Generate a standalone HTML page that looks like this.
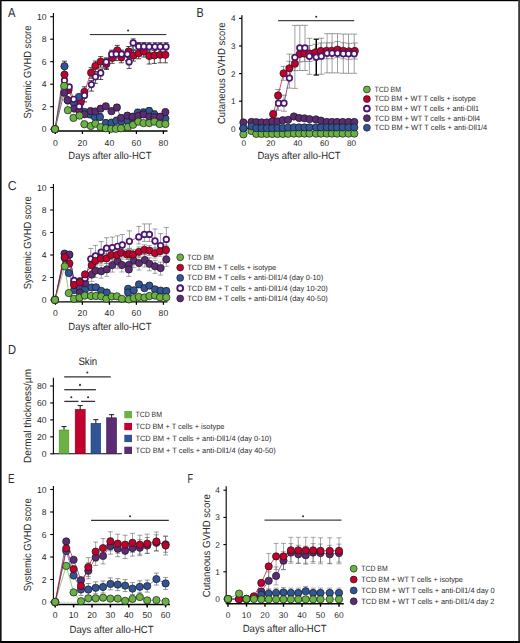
<!DOCTYPE html>
<html><head><meta charset="utf-8"><title>Figure</title>
<style>
html,body{margin:0;padding:0;background:#fff;}
svg{display:block;}
text{font-family:"Liberation Sans",sans-serif;fill:#2b2b2b;text-rendering:geometricPrecision;}
</style></head>
<body>
<svg width="520" height="643" viewBox="0 0 520 643">
<rect x="0" y="0" width="520" height="643" fill="#fff"/>
<text x="8.10" y="17.00" font-size="13.0" textLength="7.44" lengthAdjust="spacingAndGlyphs">A</text>
<text x="196.60" y="17.20" font-size="13.0" textLength="7.20" lengthAdjust="spacingAndGlyphs">B</text>
<text x="7.80" y="190.10" font-size="13.0" textLength="8.86" lengthAdjust="spacingAndGlyphs">C</text>
<text x="7.90" y="354.00" font-size="13.0" textLength="8.06" lengthAdjust="spacingAndGlyphs">D</text>
<text x="8.00" y="483.00" font-size="13.0" textLength="6.53" lengthAdjust="spacingAndGlyphs">E</text>
<text x="187.60" y="482.50" font-size="13.0" textLength="5.60" lengthAdjust="spacingAndGlyphs">F</text>
<line x1="53.40" y1="13.10" x2="53.40" y2="131.60" stroke="#000" stroke-width="1.1"/>
<line x1="50.20" y1="129.20" x2="53.40" y2="129.20" stroke="#000" stroke-width="1.1"/>
<text x="46.60" y="132.30" font-size="8.6" text-anchor="end">0</text>
<line x1="50.20" y1="106.70" x2="53.40" y2="106.70" stroke="#000" stroke-width="1.1"/>
<text x="46.60" y="109.80" font-size="8.6" text-anchor="end">2</text>
<line x1="50.20" y1="84.20" x2="53.40" y2="84.20" stroke="#000" stroke-width="1.1"/>
<text x="46.60" y="87.30" font-size="8.6" text-anchor="end">4</text>
<line x1="50.20" y1="61.70" x2="53.40" y2="61.70" stroke="#000" stroke-width="1.1"/>
<text x="46.60" y="64.80" font-size="8.6" text-anchor="end">6</text>
<line x1="50.20" y1="39.20" x2="53.40" y2="39.20" stroke="#000" stroke-width="1.1"/>
<text x="46.60" y="42.30" font-size="8.6" text-anchor="end">8</text>
<line x1="50.20" y1="16.70" x2="53.40" y2="16.70" stroke="#000" stroke-width="1.1"/>
<text x="46.60" y="19.80" font-size="8.6" text-anchor="end">10</text>
<line x1="53.40" y1="131.00" x2="167.50" y2="131.00" stroke="#000" stroke-width="1.3"/>
<line x1="55.40" y1="131.00" x2="55.40" y2="134.00" stroke="#000" stroke-width="1.3"/>
<text x="55.40" y="145.60" font-size="8.6" text-anchor="middle">0</text>
<line x1="82.40" y1="131.00" x2="82.40" y2="134.00" stroke="#000" stroke-width="1.3"/>
<text x="82.40" y="145.60" font-size="8.6" text-anchor="middle">20</text>
<line x1="109.40" y1="131.00" x2="109.40" y2="134.00" stroke="#000" stroke-width="1.3"/>
<text x="109.40" y="145.60" font-size="8.6" text-anchor="middle">40</text>
<line x1="136.40" y1="131.00" x2="136.40" y2="134.00" stroke="#000" stroke-width="1.3"/>
<text x="136.40" y="145.60" font-size="8.6" text-anchor="middle">60</text>
<line x1="163.40" y1="131.00" x2="163.40" y2="134.00" stroke="#000" stroke-width="1.3"/>
<text x="163.40" y="145.60" font-size="8.6" text-anchor="middle">80</text>
<text x="68.30" y="159.40" font-size="10.4" textLength="83.20" lengthAdjust="spacingAndGlyphs">Days after allo-HCT</text>
<text x="31.30" y="118.50" font-size="10.4" textLength="92.90" lengthAdjust="spacingAndGlyphs" transform="rotate(-90 31.30 118.50)">Systemic GVHD score</text>
<line x1="89.8" y1="34.6" x2="166.3" y2="34.6" stroke="#222" stroke-width="1"/>
<circle cx="128.10" cy="30.50" r="1.05" fill="#333"/>
<polyline points="55.00,129.20 64.50,66.20 68.00,100.50 73.60,102.40 78.90,96.90 84.60,112.00 90.00,114.50 94.80,117.00 100.00,117.00 105.80,123.10 111.50,122.80 116.30,120.80 121.40,121.50 127.30,120.20 132.50,118.00 137.70,112.70 143.50,112.50 149.20,111.00 154.40,114.40 160.00,117.00 165.40,118.50" fill="none" stroke="#2f5597" stroke-width="0.7"/>
<polyline points="55.00,129.20 64.20,92.80 67.50,100.00 74.10,108.60 79.20,110.50 84.50,114.30 90.60,111.10 95.40,111.50 100.60,108.70 105.80,106.30 111.50,111.20 116.90,107.50 121.00,117.90 127.30,115.60 132.50,116.70 138.30,115.90 143.50,114.40 149.20,116.70 154.40,117.00 160.20,116.70 165.40,112.10" fill="none" stroke="#5b2b74" stroke-width="0.7"/>
<polyline points="55.00,129.20 64.50,74.60 68.50,90.00 73.60,101.50 80.60,102.40 84.40,91.80 91.10,72.70 95.40,66.00 100.70,61.60 106.40,64.00 112.20,57.80 117.30,50.40 121.30,57.30 128.60,51.50 133.50,55.60 138.70,53.30 143.80,51.50 149.20,56.00 154.40,55.40 160.20,54.80 165.40,54.80" fill="none" stroke="#c1002d" stroke-width="0.7"/>
<polyline points="55.00,129.20 64.50,80.40 69.20,86.90 73.70,99.30 79.20,106.40 84.50,95.40 91.40,84.60 95.40,76.80 100.70,73.00 106.20,61.90 111.70,54.20 116.20,54.10 121.60,54.10 127.40,54.10 129.10,61.90 133.20,42.90 138.70,46.50 143.90,46.50 149.20,46.70 155.00,46.70 160.20,46.70 166.00,46.70" fill="none" stroke="#4a1670" stroke-width="0.7"/>
<polyline points="55.00,129.20 64.20,85.90 67.90,110.20 73.50,117.90 79.50,115.60 84.40,124.20 90.80,126.00 95.40,123.70 100.60,127.10 105.80,128.30 111.20,128.80 115.80,128.80 121.00,128.30 127.90,127.10 133.10,124.80 138.30,121.70 143.50,123.10 149.20,123.10 154.40,121.70 159.60,124.00 165.40,124.00" fill="none" stroke="#6ab343" stroke-width="0.7"/>
<line x1="84.40" y1="86.80" x2="84.40" y2="91.80" stroke="#222" stroke-width="0.8"/>
<line x1="81.90" y1="86.80" x2="86.90" y2="86.80" stroke="#222" stroke-width="0.8"/>
<line x1="84.40" y1="91.80" x2="84.40" y2="97.30" stroke="#222" stroke-width="0.8"/>
<line x1="81.90" y1="97.30" x2="86.90" y2="97.30" stroke="#222" stroke-width="0.8"/>
<line x1="91.10" y1="67.70" x2="91.10" y2="72.70" stroke="#222" stroke-width="0.8"/>
<line x1="88.60" y1="67.70" x2="93.60" y2="67.70" stroke="#222" stroke-width="0.8"/>
<line x1="91.10" y1="72.70" x2="91.10" y2="78.20" stroke="#222" stroke-width="0.8"/>
<line x1="88.60" y1="78.20" x2="93.60" y2="78.20" stroke="#222" stroke-width="0.8"/>
<line x1="95.40" y1="61.00" x2="95.40" y2="66.00" stroke="#222" stroke-width="0.8"/>
<line x1="92.90" y1="61.00" x2="97.90" y2="61.00" stroke="#222" stroke-width="0.8"/>
<line x1="95.40" y1="66.00" x2="95.40" y2="71.50" stroke="#222" stroke-width="0.8"/>
<line x1="92.90" y1="71.50" x2="97.90" y2="71.50" stroke="#222" stroke-width="0.8"/>
<line x1="100.70" y1="56.60" x2="100.70" y2="61.60" stroke="#222" stroke-width="0.8"/>
<line x1="98.20" y1="56.60" x2="103.20" y2="56.60" stroke="#222" stroke-width="0.8"/>
<line x1="100.70" y1="61.60" x2="100.70" y2="67.10" stroke="#222" stroke-width="0.8"/>
<line x1="98.20" y1="67.10" x2="103.20" y2="67.10" stroke="#222" stroke-width="0.8"/>
<line x1="106.40" y1="59.00" x2="106.40" y2="64.00" stroke="#222" stroke-width="0.8"/>
<line x1="103.90" y1="59.00" x2="108.90" y2="59.00" stroke="#222" stroke-width="0.8"/>
<line x1="106.40" y1="64.00" x2="106.40" y2="69.50" stroke="#222" stroke-width="0.8"/>
<line x1="103.90" y1="69.50" x2="108.90" y2="69.50" stroke="#222" stroke-width="0.8"/>
<line x1="112.20" y1="52.80" x2="112.20" y2="57.80" stroke="#222" stroke-width="0.8"/>
<line x1="109.70" y1="52.80" x2="114.70" y2="52.80" stroke="#222" stroke-width="0.8"/>
<line x1="112.20" y1="57.80" x2="112.20" y2="63.30" stroke="#222" stroke-width="0.8"/>
<line x1="109.70" y1="63.30" x2="114.70" y2="63.30" stroke="#222" stroke-width="0.8"/>
<line x1="117.30" y1="45.40" x2="117.30" y2="50.40" stroke="#222" stroke-width="0.8"/>
<line x1="114.80" y1="45.40" x2="119.80" y2="45.40" stroke="#222" stroke-width="0.8"/>
<line x1="117.30" y1="50.40" x2="117.30" y2="55.90" stroke="#222" stroke-width="0.8"/>
<line x1="114.80" y1="55.90" x2="119.80" y2="55.90" stroke="#222" stroke-width="0.8"/>
<line x1="121.30" y1="52.30" x2="121.30" y2="57.30" stroke="#222" stroke-width="0.8"/>
<line x1="118.80" y1="52.30" x2="123.80" y2="52.30" stroke="#222" stroke-width="0.8"/>
<line x1="121.30" y1="57.30" x2="121.30" y2="62.80" stroke="#222" stroke-width="0.8"/>
<line x1="118.80" y1="62.80" x2="123.80" y2="62.80" stroke="#222" stroke-width="0.8"/>
<line x1="128.60" y1="46.50" x2="128.60" y2="51.50" stroke="#222" stroke-width="0.8"/>
<line x1="126.10" y1="46.50" x2="131.10" y2="46.50" stroke="#222" stroke-width="0.8"/>
<line x1="128.60" y1="51.50" x2="128.60" y2="57.00" stroke="#222" stroke-width="0.8"/>
<line x1="126.10" y1="57.00" x2="131.10" y2="57.00" stroke="#222" stroke-width="0.8"/>
<line x1="133.50" y1="50.60" x2="133.50" y2="55.60" stroke="#222" stroke-width="0.8"/>
<line x1="131.00" y1="50.60" x2="136.00" y2="50.60" stroke="#222" stroke-width="0.8"/>
<line x1="133.50" y1="55.60" x2="133.50" y2="61.10" stroke="#222" stroke-width="0.8"/>
<line x1="131.00" y1="61.10" x2="136.00" y2="61.10" stroke="#222" stroke-width="0.8"/>
<line x1="138.70" y1="48.30" x2="138.70" y2="53.30" stroke="#222" stroke-width="0.8"/>
<line x1="136.20" y1="48.30" x2="141.20" y2="48.30" stroke="#222" stroke-width="0.8"/>
<line x1="138.70" y1="53.30" x2="138.70" y2="58.80" stroke="#222" stroke-width="0.8"/>
<line x1="136.20" y1="58.80" x2="141.20" y2="58.80" stroke="#222" stroke-width="0.8"/>
<line x1="143.80" y1="46.50" x2="143.80" y2="51.50" stroke="#222" stroke-width="0.8"/>
<line x1="141.30" y1="46.50" x2="146.30" y2="46.50" stroke="#222" stroke-width="0.8"/>
<line x1="143.80" y1="51.50" x2="143.80" y2="57.00" stroke="#222" stroke-width="0.8"/>
<line x1="141.30" y1="57.00" x2="146.30" y2="57.00" stroke="#222" stroke-width="0.8"/>
<line x1="149.20" y1="51.00" x2="149.20" y2="56.00" stroke="#222" stroke-width="0.8"/>
<line x1="146.70" y1="51.00" x2="151.70" y2="51.00" stroke="#222" stroke-width="0.8"/>
<line x1="149.20" y1="56.00" x2="149.20" y2="64.00" stroke="#222" stroke-width="0.8"/>
<line x1="146.70" y1="64.00" x2="151.70" y2="64.00" stroke="#222" stroke-width="0.8"/>
<line x1="154.40" y1="50.40" x2="154.40" y2="55.40" stroke="#222" stroke-width="0.8"/>
<line x1="151.90" y1="50.40" x2="156.90" y2="50.40" stroke="#222" stroke-width="0.8"/>
<line x1="154.40" y1="55.40" x2="154.40" y2="63.40" stroke="#222" stroke-width="0.8"/>
<line x1="151.90" y1="63.40" x2="156.90" y2="63.40" stroke="#222" stroke-width="0.8"/>
<line x1="160.20" y1="49.80" x2="160.20" y2="54.80" stroke="#222" stroke-width="0.8"/>
<line x1="157.70" y1="49.80" x2="162.70" y2="49.80" stroke="#222" stroke-width="0.8"/>
<line x1="160.20" y1="54.80" x2="160.20" y2="62.80" stroke="#222" stroke-width="0.8"/>
<line x1="157.70" y1="62.80" x2="162.70" y2="62.80" stroke="#222" stroke-width="0.8"/>
<line x1="165.40" y1="49.80" x2="165.40" y2="54.80" stroke="#222" stroke-width="0.8"/>
<line x1="162.90" y1="49.80" x2="167.90" y2="49.80" stroke="#222" stroke-width="0.8"/>
<line x1="165.40" y1="54.80" x2="165.40" y2="62.80" stroke="#222" stroke-width="0.8"/>
<line x1="162.90" y1="62.80" x2="167.90" y2="62.80" stroke="#222" stroke-width="0.8"/>
<line x1="84.50" y1="91.40" x2="84.50" y2="95.40" stroke="#222" stroke-width="0.8"/>
<line x1="82.00" y1="91.40" x2="87.00" y2="91.40" stroke="#222" stroke-width="0.8"/>
<line x1="84.50" y1="95.40" x2="84.50" y2="101.90" stroke="#222" stroke-width="0.8"/>
<line x1="82.00" y1="101.90" x2="87.00" y2="101.90" stroke="#222" stroke-width="0.8"/>
<line x1="91.40" y1="80.60" x2="91.40" y2="84.60" stroke="#222" stroke-width="0.8"/>
<line x1="88.90" y1="80.60" x2="93.90" y2="80.60" stroke="#222" stroke-width="0.8"/>
<line x1="91.40" y1="84.60" x2="91.40" y2="91.10" stroke="#222" stroke-width="0.8"/>
<line x1="88.90" y1="91.10" x2="93.90" y2="91.10" stroke="#222" stroke-width="0.8"/>
<line x1="95.40" y1="72.80" x2="95.40" y2="76.80" stroke="#222" stroke-width="0.8"/>
<line x1="92.90" y1="72.80" x2="97.90" y2="72.80" stroke="#222" stroke-width="0.8"/>
<line x1="95.40" y1="76.80" x2="95.40" y2="83.30" stroke="#222" stroke-width="0.8"/>
<line x1="92.90" y1="83.30" x2="97.90" y2="83.30" stroke="#222" stroke-width="0.8"/>
<line x1="100.70" y1="69.00" x2="100.70" y2="73.00" stroke="#222" stroke-width="0.8"/>
<line x1="98.20" y1="69.00" x2="103.20" y2="69.00" stroke="#222" stroke-width="0.8"/>
<line x1="100.70" y1="73.00" x2="100.70" y2="79.50" stroke="#222" stroke-width="0.8"/>
<line x1="98.20" y1="79.50" x2="103.20" y2="79.50" stroke="#222" stroke-width="0.8"/>
<line x1="106.20" y1="57.90" x2="106.20" y2="61.90" stroke="#222" stroke-width="0.8"/>
<line x1="103.70" y1="57.90" x2="108.70" y2="57.90" stroke="#222" stroke-width="0.8"/>
<line x1="106.20" y1="61.90" x2="106.20" y2="68.40" stroke="#222" stroke-width="0.8"/>
<line x1="103.70" y1="68.40" x2="108.70" y2="68.40" stroke="#222" stroke-width="0.8"/>
<line x1="111.70" y1="50.20" x2="111.70" y2="54.20" stroke="#222" stroke-width="0.8"/>
<line x1="109.20" y1="50.20" x2="114.20" y2="50.20" stroke="#222" stroke-width="0.8"/>
<line x1="111.70" y1="54.20" x2="111.70" y2="60.70" stroke="#222" stroke-width="0.8"/>
<line x1="109.20" y1="60.70" x2="114.20" y2="60.70" stroke="#222" stroke-width="0.8"/>
<line x1="116.20" y1="50.10" x2="116.20" y2="54.10" stroke="#222" stroke-width="0.8"/>
<line x1="113.70" y1="50.10" x2="118.70" y2="50.10" stroke="#222" stroke-width="0.8"/>
<line x1="116.20" y1="54.10" x2="116.20" y2="60.60" stroke="#222" stroke-width="0.8"/>
<line x1="113.70" y1="60.60" x2="118.70" y2="60.60" stroke="#222" stroke-width="0.8"/>
<line x1="121.60" y1="50.10" x2="121.60" y2="54.10" stroke="#222" stroke-width="0.8"/>
<line x1="119.10" y1="50.10" x2="124.10" y2="50.10" stroke="#222" stroke-width="0.8"/>
<line x1="121.60" y1="54.10" x2="121.60" y2="60.60" stroke="#222" stroke-width="0.8"/>
<line x1="119.10" y1="60.60" x2="124.10" y2="60.60" stroke="#222" stroke-width="0.8"/>
<line x1="127.40" y1="50.10" x2="127.40" y2="54.10" stroke="#222" stroke-width="0.8"/>
<line x1="124.90" y1="50.10" x2="129.90" y2="50.10" stroke="#222" stroke-width="0.8"/>
<line x1="127.40" y1="54.10" x2="127.40" y2="60.60" stroke="#222" stroke-width="0.8"/>
<line x1="124.90" y1="60.60" x2="129.90" y2="60.60" stroke="#222" stroke-width="0.8"/>
<line x1="129.10" y1="57.90" x2="129.10" y2="61.90" stroke="#222" stroke-width="0.8"/>
<line x1="126.60" y1="57.90" x2="131.60" y2="57.90" stroke="#222" stroke-width="0.8"/>
<line x1="129.10" y1="61.90" x2="129.10" y2="68.40" stroke="#222" stroke-width="0.8"/>
<line x1="126.60" y1="68.40" x2="131.60" y2="68.40" stroke="#222" stroke-width="0.8"/>
<line x1="133.20" y1="38.90" x2="133.20" y2="42.90" stroke="#222" stroke-width="0.8"/>
<line x1="130.70" y1="38.90" x2="135.70" y2="38.90" stroke="#222" stroke-width="0.8"/>
<line x1="133.20" y1="42.90" x2="133.20" y2="49.40" stroke="#222" stroke-width="0.8"/>
<line x1="130.70" y1="49.40" x2="135.70" y2="49.40" stroke="#222" stroke-width="0.8"/>
<line x1="138.70" y1="42.50" x2="138.70" y2="46.50" stroke="#222" stroke-width="0.8"/>
<line x1="136.20" y1="42.50" x2="141.20" y2="42.50" stroke="#222" stroke-width="0.8"/>
<line x1="138.70" y1="46.50" x2="138.70" y2="53.00" stroke="#222" stroke-width="0.8"/>
<line x1="136.20" y1="53.00" x2="141.20" y2="53.00" stroke="#222" stroke-width="0.8"/>
<line x1="143.90" y1="42.50" x2="143.90" y2="46.50" stroke="#222" stroke-width="0.8"/>
<line x1="141.40" y1="42.50" x2="146.40" y2="42.50" stroke="#222" stroke-width="0.8"/>
<line x1="143.90" y1="46.50" x2="143.90" y2="53.00" stroke="#222" stroke-width="0.8"/>
<line x1="141.40" y1="53.00" x2="146.40" y2="53.00" stroke="#222" stroke-width="0.8"/>
<line x1="149.20" y1="42.70" x2="149.20" y2="46.70" stroke="#222" stroke-width="0.8"/>
<line x1="146.70" y1="42.70" x2="151.70" y2="42.70" stroke="#222" stroke-width="0.8"/>
<line x1="149.20" y1="46.70" x2="149.20" y2="53.20" stroke="#222" stroke-width="0.8"/>
<line x1="146.70" y1="53.20" x2="151.70" y2="53.20" stroke="#222" stroke-width="0.8"/>
<line x1="155.00" y1="42.70" x2="155.00" y2="46.70" stroke="#222" stroke-width="0.8"/>
<line x1="152.50" y1="42.70" x2="157.50" y2="42.70" stroke="#222" stroke-width="0.8"/>
<line x1="155.00" y1="46.70" x2="155.00" y2="53.20" stroke="#222" stroke-width="0.8"/>
<line x1="152.50" y1="53.20" x2="157.50" y2="53.20" stroke="#222" stroke-width="0.8"/>
<line x1="160.20" y1="42.70" x2="160.20" y2="46.70" stroke="#222" stroke-width="0.8"/>
<line x1="157.70" y1="42.70" x2="162.70" y2="42.70" stroke="#222" stroke-width="0.8"/>
<line x1="160.20" y1="46.70" x2="160.20" y2="53.20" stroke="#222" stroke-width="0.8"/>
<line x1="157.70" y1="53.20" x2="162.70" y2="53.20" stroke="#222" stroke-width="0.8"/>
<line x1="166.00" y1="42.70" x2="166.00" y2="46.70" stroke="#222" stroke-width="0.8"/>
<line x1="163.50" y1="42.70" x2="168.50" y2="42.70" stroke="#222" stroke-width="0.8"/>
<line x1="166.00" y1="46.70" x2="166.00" y2="53.20" stroke="#222" stroke-width="0.8"/>
<line x1="163.50" y1="53.20" x2="168.50" y2="53.20" stroke="#222" stroke-width="0.8"/>
<line x1="64.50" y1="61.20" x2="64.50" y2="66.20" stroke="#222" stroke-width="0.8"/>
<line x1="62.00" y1="61.20" x2="67.00" y2="61.20" stroke="#222" stroke-width="0.8"/>
<line x1="90.00" y1="111.00" x2="90.00" y2="114.50" stroke="#222" stroke-width="0.7"/>
<line x1="87.50" y1="111.00" x2="92.50" y2="111.00" stroke="#222" stroke-width="0.7"/>
<line x1="90.00" y1="114.50" x2="90.00" y2="117.50" stroke="#222" stroke-width="0.7"/>
<line x1="87.50" y1="117.50" x2="92.50" y2="117.50" stroke="#222" stroke-width="0.7"/>
<line x1="94.80" y1="113.50" x2="94.80" y2="117.00" stroke="#222" stroke-width="0.7"/>
<line x1="92.30" y1="113.50" x2="97.30" y2="113.50" stroke="#222" stroke-width="0.7"/>
<line x1="94.80" y1="117.00" x2="94.80" y2="120.00" stroke="#222" stroke-width="0.7"/>
<line x1="92.30" y1="120.00" x2="97.30" y2="120.00" stroke="#222" stroke-width="0.7"/>
<line x1="100.00" y1="113.50" x2="100.00" y2="117.00" stroke="#222" stroke-width="0.7"/>
<line x1="97.50" y1="113.50" x2="102.50" y2="113.50" stroke="#222" stroke-width="0.7"/>
<line x1="100.00" y1="117.00" x2="100.00" y2="120.00" stroke="#222" stroke-width="0.7"/>
<line x1="97.50" y1="120.00" x2="102.50" y2="120.00" stroke="#222" stroke-width="0.7"/>
<line x1="105.80" y1="119.60" x2="105.80" y2="123.10" stroke="#222" stroke-width="0.7"/>
<line x1="103.30" y1="119.60" x2="108.30" y2="119.60" stroke="#222" stroke-width="0.7"/>
<line x1="105.80" y1="123.10" x2="105.80" y2="126.10" stroke="#222" stroke-width="0.7"/>
<line x1="103.30" y1="126.10" x2="108.30" y2="126.10" stroke="#222" stroke-width="0.7"/>
<line x1="111.50" y1="119.30" x2="111.50" y2="122.80" stroke="#222" stroke-width="0.7"/>
<line x1="109.00" y1="119.30" x2="114.00" y2="119.30" stroke="#222" stroke-width="0.7"/>
<line x1="111.50" y1="122.80" x2="111.50" y2="125.80" stroke="#222" stroke-width="0.7"/>
<line x1="109.00" y1="125.80" x2="114.00" y2="125.80" stroke="#222" stroke-width="0.7"/>
<line x1="116.30" y1="117.30" x2="116.30" y2="120.80" stroke="#222" stroke-width="0.7"/>
<line x1="113.80" y1="117.30" x2="118.80" y2="117.30" stroke="#222" stroke-width="0.7"/>
<line x1="116.30" y1="120.80" x2="116.30" y2="123.80" stroke="#222" stroke-width="0.7"/>
<line x1="113.80" y1="123.80" x2="118.80" y2="123.80" stroke="#222" stroke-width="0.7"/>
<line x1="121.40" y1="118.00" x2="121.40" y2="121.50" stroke="#222" stroke-width="0.7"/>
<line x1="118.90" y1="118.00" x2="123.90" y2="118.00" stroke="#222" stroke-width="0.7"/>
<line x1="121.40" y1="121.50" x2="121.40" y2="124.50" stroke="#222" stroke-width="0.7"/>
<line x1="118.90" y1="124.50" x2="123.90" y2="124.50" stroke="#222" stroke-width="0.7"/>
<line x1="127.30" y1="116.70" x2="127.30" y2="120.20" stroke="#222" stroke-width="0.7"/>
<line x1="124.80" y1="116.70" x2="129.80" y2="116.70" stroke="#222" stroke-width="0.7"/>
<line x1="127.30" y1="120.20" x2="127.30" y2="123.20" stroke="#222" stroke-width="0.7"/>
<line x1="124.80" y1="123.20" x2="129.80" y2="123.20" stroke="#222" stroke-width="0.7"/>
<line x1="132.50" y1="114.50" x2="132.50" y2="118.00" stroke="#222" stroke-width="0.7"/>
<line x1="130.00" y1="114.50" x2="135.00" y2="114.50" stroke="#222" stroke-width="0.7"/>
<line x1="132.50" y1="118.00" x2="132.50" y2="121.00" stroke="#222" stroke-width="0.7"/>
<line x1="130.00" y1="121.00" x2="135.00" y2="121.00" stroke="#222" stroke-width="0.7"/>
<line x1="137.70" y1="109.20" x2="137.70" y2="112.70" stroke="#222" stroke-width="0.7"/>
<line x1="135.20" y1="109.20" x2="140.20" y2="109.20" stroke="#222" stroke-width="0.7"/>
<line x1="137.70" y1="112.70" x2="137.70" y2="115.70" stroke="#222" stroke-width="0.7"/>
<line x1="135.20" y1="115.70" x2="140.20" y2="115.70" stroke="#222" stroke-width="0.7"/>
<line x1="143.50" y1="109.00" x2="143.50" y2="112.50" stroke="#222" stroke-width="0.7"/>
<line x1="141.00" y1="109.00" x2="146.00" y2="109.00" stroke="#222" stroke-width="0.7"/>
<line x1="143.50" y1="112.50" x2="143.50" y2="115.50" stroke="#222" stroke-width="0.7"/>
<line x1="141.00" y1="115.50" x2="146.00" y2="115.50" stroke="#222" stroke-width="0.7"/>
<line x1="149.20" y1="107.50" x2="149.20" y2="111.00" stroke="#222" stroke-width="0.7"/>
<line x1="146.70" y1="107.50" x2="151.70" y2="107.50" stroke="#222" stroke-width="0.7"/>
<line x1="149.20" y1="111.00" x2="149.20" y2="114.00" stroke="#222" stroke-width="0.7"/>
<line x1="146.70" y1="114.00" x2="151.70" y2="114.00" stroke="#222" stroke-width="0.7"/>
<line x1="154.40" y1="110.90" x2="154.40" y2="114.40" stroke="#222" stroke-width="0.7"/>
<line x1="151.90" y1="110.90" x2="156.90" y2="110.90" stroke="#222" stroke-width="0.7"/>
<line x1="154.40" y1="114.40" x2="154.40" y2="117.40" stroke="#222" stroke-width="0.7"/>
<line x1="151.90" y1="117.40" x2="156.90" y2="117.40" stroke="#222" stroke-width="0.7"/>
<line x1="160.00" y1="113.50" x2="160.00" y2="117.00" stroke="#222" stroke-width="0.7"/>
<line x1="157.50" y1="113.50" x2="162.50" y2="113.50" stroke="#222" stroke-width="0.7"/>
<line x1="160.00" y1="117.00" x2="160.00" y2="120.00" stroke="#222" stroke-width="0.7"/>
<line x1="157.50" y1="120.00" x2="162.50" y2="120.00" stroke="#222" stroke-width="0.7"/>
<line x1="165.40" y1="115.00" x2="165.40" y2="118.50" stroke="#222" stroke-width="0.7"/>
<line x1="162.90" y1="115.00" x2="167.90" y2="115.00" stroke="#222" stroke-width="0.7"/>
<line x1="165.40" y1="118.50" x2="165.40" y2="121.50" stroke="#222" stroke-width="0.7"/>
<line x1="162.90" y1="121.50" x2="167.90" y2="121.50" stroke="#222" stroke-width="0.7"/>
<line x1="90.60" y1="108.10" x2="90.60" y2="111.10" stroke="#222" stroke-width="0.7"/>
<line x1="88.10" y1="108.10" x2="93.10" y2="108.10" stroke="#222" stroke-width="0.7"/>
<line x1="90.60" y1="111.10" x2="90.60" y2="113.60" stroke="#222" stroke-width="0.7"/>
<line x1="88.10" y1="113.60" x2="93.10" y2="113.60" stroke="#222" stroke-width="0.7"/>
<line x1="95.40" y1="108.50" x2="95.40" y2="111.50" stroke="#222" stroke-width="0.7"/>
<line x1="92.90" y1="108.50" x2="97.90" y2="108.50" stroke="#222" stroke-width="0.7"/>
<line x1="95.40" y1="111.50" x2="95.40" y2="114.00" stroke="#222" stroke-width="0.7"/>
<line x1="92.90" y1="114.00" x2="97.90" y2="114.00" stroke="#222" stroke-width="0.7"/>
<line x1="100.60" y1="105.70" x2="100.60" y2="108.70" stroke="#222" stroke-width="0.7"/>
<line x1="98.10" y1="105.70" x2="103.10" y2="105.70" stroke="#222" stroke-width="0.7"/>
<line x1="100.60" y1="108.70" x2="100.60" y2="111.20" stroke="#222" stroke-width="0.7"/>
<line x1="98.10" y1="111.20" x2="103.10" y2="111.20" stroke="#222" stroke-width="0.7"/>
<line x1="105.80" y1="103.30" x2="105.80" y2="106.30" stroke="#222" stroke-width="0.7"/>
<line x1="103.30" y1="103.30" x2="108.30" y2="103.30" stroke="#222" stroke-width="0.7"/>
<line x1="105.80" y1="106.30" x2="105.80" y2="108.80" stroke="#222" stroke-width="0.7"/>
<line x1="103.30" y1="108.80" x2="108.30" y2="108.80" stroke="#222" stroke-width="0.7"/>
<line x1="111.50" y1="108.20" x2="111.50" y2="111.20" stroke="#222" stroke-width="0.7"/>
<line x1="109.00" y1="108.20" x2="114.00" y2="108.20" stroke="#222" stroke-width="0.7"/>
<line x1="111.50" y1="111.20" x2="111.50" y2="113.70" stroke="#222" stroke-width="0.7"/>
<line x1="109.00" y1="113.70" x2="114.00" y2="113.70" stroke="#222" stroke-width="0.7"/>
<line x1="116.90" y1="104.50" x2="116.90" y2="107.50" stroke="#222" stroke-width="0.7"/>
<line x1="114.40" y1="104.50" x2="119.40" y2="104.50" stroke="#222" stroke-width="0.7"/>
<line x1="116.90" y1="107.50" x2="116.90" y2="110.00" stroke="#222" stroke-width="0.7"/>
<line x1="114.40" y1="110.00" x2="119.40" y2="110.00" stroke="#222" stroke-width="0.7"/>
<line x1="121.00" y1="114.90" x2="121.00" y2="117.90" stroke="#222" stroke-width="0.7"/>
<line x1="118.50" y1="114.90" x2="123.50" y2="114.90" stroke="#222" stroke-width="0.7"/>
<line x1="121.00" y1="117.90" x2="121.00" y2="120.40" stroke="#222" stroke-width="0.7"/>
<line x1="118.50" y1="120.40" x2="123.50" y2="120.40" stroke="#222" stroke-width="0.7"/>
<line x1="127.30" y1="112.60" x2="127.30" y2="115.60" stroke="#222" stroke-width="0.7"/>
<line x1="124.80" y1="112.60" x2="129.80" y2="112.60" stroke="#222" stroke-width="0.7"/>
<line x1="127.30" y1="115.60" x2="127.30" y2="118.10" stroke="#222" stroke-width="0.7"/>
<line x1="124.80" y1="118.10" x2="129.80" y2="118.10" stroke="#222" stroke-width="0.7"/>
<line x1="132.50" y1="113.70" x2="132.50" y2="116.70" stroke="#222" stroke-width="0.7"/>
<line x1="130.00" y1="113.70" x2="135.00" y2="113.70" stroke="#222" stroke-width="0.7"/>
<line x1="132.50" y1="116.70" x2="132.50" y2="119.20" stroke="#222" stroke-width="0.7"/>
<line x1="130.00" y1="119.20" x2="135.00" y2="119.20" stroke="#222" stroke-width="0.7"/>
<line x1="138.30" y1="112.90" x2="138.30" y2="115.90" stroke="#222" stroke-width="0.7"/>
<line x1="135.80" y1="112.90" x2="140.80" y2="112.90" stroke="#222" stroke-width="0.7"/>
<line x1="138.30" y1="115.90" x2="138.30" y2="118.40" stroke="#222" stroke-width="0.7"/>
<line x1="135.80" y1="118.40" x2="140.80" y2="118.40" stroke="#222" stroke-width="0.7"/>
<line x1="143.50" y1="111.40" x2="143.50" y2="114.40" stroke="#222" stroke-width="0.7"/>
<line x1="141.00" y1="111.40" x2="146.00" y2="111.40" stroke="#222" stroke-width="0.7"/>
<line x1="143.50" y1="114.40" x2="143.50" y2="116.90" stroke="#222" stroke-width="0.7"/>
<line x1="141.00" y1="116.90" x2="146.00" y2="116.90" stroke="#222" stroke-width="0.7"/>
<line x1="149.20" y1="113.70" x2="149.20" y2="116.70" stroke="#222" stroke-width="0.7"/>
<line x1="146.70" y1="113.70" x2="151.70" y2="113.70" stroke="#222" stroke-width="0.7"/>
<line x1="149.20" y1="116.70" x2="149.20" y2="119.20" stroke="#222" stroke-width="0.7"/>
<line x1="146.70" y1="119.20" x2="151.70" y2="119.20" stroke="#222" stroke-width="0.7"/>
<line x1="154.40" y1="114.00" x2="154.40" y2="117.00" stroke="#222" stroke-width="0.7"/>
<line x1="151.90" y1="114.00" x2="156.90" y2="114.00" stroke="#222" stroke-width="0.7"/>
<line x1="154.40" y1="117.00" x2="154.40" y2="119.50" stroke="#222" stroke-width="0.7"/>
<line x1="151.90" y1="119.50" x2="156.90" y2="119.50" stroke="#222" stroke-width="0.7"/>
<line x1="160.20" y1="113.70" x2="160.20" y2="116.70" stroke="#222" stroke-width="0.7"/>
<line x1="157.70" y1="113.70" x2="162.70" y2="113.70" stroke="#222" stroke-width="0.7"/>
<line x1="160.20" y1="116.70" x2="160.20" y2="119.20" stroke="#222" stroke-width="0.7"/>
<line x1="157.70" y1="119.20" x2="162.70" y2="119.20" stroke="#222" stroke-width="0.7"/>
<line x1="165.40" y1="109.10" x2="165.40" y2="112.10" stroke="#222" stroke-width="0.7"/>
<line x1="162.90" y1="109.10" x2="167.90" y2="109.10" stroke="#222" stroke-width="0.7"/>
<line x1="165.40" y1="112.10" x2="165.40" y2="114.60" stroke="#222" stroke-width="0.7"/>
<line x1="162.90" y1="114.60" x2="167.90" y2="114.60" stroke="#222" stroke-width="0.7"/>
<circle cx="64.50" cy="80.40" r="2.8" fill="#fff" stroke="#4a1670" stroke-width="1.7"/>
<circle cx="55.00" cy="129.20" r="3.65" fill="#c1002d" stroke="#1a1a1a" stroke-width="0.7"/>
<circle cx="64.50" cy="74.60" r="3.65" fill="#c1002d" stroke="#1a1a1a" stroke-width="0.7"/>
<circle cx="68.50" cy="90.00" r="3.65" fill="#c1002d" stroke="#1a1a1a" stroke-width="0.7"/>
<circle cx="73.60" cy="101.50" r="3.65" fill="#c1002d" stroke="#1a1a1a" stroke-width="0.7"/>
<circle cx="80.60" cy="102.40" r="3.65" fill="#c1002d" stroke="#1a1a1a" stroke-width="0.7"/>
<circle cx="84.40" cy="91.80" r="3.65" fill="#c1002d" stroke="#1a1a1a" stroke-width="0.7"/>
<circle cx="91.10" cy="72.70" r="3.65" fill="#c1002d" stroke="#1a1a1a" stroke-width="0.7"/>
<circle cx="95.40" cy="66.00" r="3.65" fill="#c1002d" stroke="#1a1a1a" stroke-width="0.7"/>
<circle cx="100.70" cy="61.60" r="3.65" fill="#c1002d" stroke="#1a1a1a" stroke-width="0.7"/>
<circle cx="106.40" cy="64.00" r="3.65" fill="#c1002d" stroke="#1a1a1a" stroke-width="0.7"/>
<circle cx="112.20" cy="57.80" r="3.65" fill="#c1002d" stroke="#1a1a1a" stroke-width="0.7"/>
<circle cx="117.30" cy="50.40" r="3.65" fill="#c1002d" stroke="#1a1a1a" stroke-width="0.7"/>
<circle cx="121.30" cy="57.30" r="3.65" fill="#c1002d" stroke="#1a1a1a" stroke-width="0.7"/>
<circle cx="128.60" cy="51.50" r="3.65" fill="#c1002d" stroke="#1a1a1a" stroke-width="0.7"/>
<circle cx="133.50" cy="55.60" r="3.65" fill="#c1002d" stroke="#1a1a1a" stroke-width="0.7"/>
<circle cx="138.70" cy="53.30" r="3.65" fill="#c1002d" stroke="#1a1a1a" stroke-width="0.7"/>
<circle cx="143.80" cy="51.50" r="3.65" fill="#c1002d" stroke="#1a1a1a" stroke-width="0.7"/>
<circle cx="149.20" cy="56.00" r="3.65" fill="#c1002d" stroke="#1a1a1a" stroke-width="0.7"/>
<circle cx="154.40" cy="55.40" r="3.65" fill="#c1002d" stroke="#1a1a1a" stroke-width="0.7"/>
<circle cx="160.20" cy="54.80" r="3.65" fill="#c1002d" stroke="#1a1a1a" stroke-width="0.7"/>
<circle cx="165.40" cy="54.80" r="3.65" fill="#c1002d" stroke="#1a1a1a" stroke-width="0.7"/>
<circle cx="55.00" cy="129.20" r="3.65" fill="#2f5597" stroke="#1a1a1a" stroke-width="0.7"/>
<circle cx="64.50" cy="66.20" r="3.65" fill="#2f5597" stroke="#1a1a1a" stroke-width="0.7"/>
<circle cx="68.00" cy="100.50" r="3.65" fill="#2f5597" stroke="#1a1a1a" stroke-width="0.7"/>
<circle cx="73.60" cy="102.40" r="3.65" fill="#2f5597" stroke="#1a1a1a" stroke-width="0.7"/>
<circle cx="78.90" cy="96.90" r="3.65" fill="#2f5597" stroke="#1a1a1a" stroke-width="0.7"/>
<circle cx="84.60" cy="112.00" r="3.65" fill="#2f5597" stroke="#1a1a1a" stroke-width="0.7"/>
<circle cx="90.00" cy="114.50" r="3.65" fill="#2f5597" stroke="#1a1a1a" stroke-width="0.7"/>
<circle cx="94.80" cy="117.00" r="3.65" fill="#2f5597" stroke="#1a1a1a" stroke-width="0.7"/>
<circle cx="100.00" cy="117.00" r="3.65" fill="#2f5597" stroke="#1a1a1a" stroke-width="0.7"/>
<circle cx="105.80" cy="123.10" r="3.65" fill="#2f5597" stroke="#1a1a1a" stroke-width="0.7"/>
<circle cx="111.50" cy="122.80" r="3.65" fill="#2f5597" stroke="#1a1a1a" stroke-width="0.7"/>
<circle cx="116.30" cy="120.80" r="3.65" fill="#2f5597" stroke="#1a1a1a" stroke-width="0.7"/>
<circle cx="121.40" cy="121.50" r="3.65" fill="#2f5597" stroke="#1a1a1a" stroke-width="0.7"/>
<circle cx="127.30" cy="120.20" r="3.65" fill="#2f5597" stroke="#1a1a1a" stroke-width="0.7"/>
<circle cx="132.50" cy="118.00" r="3.65" fill="#2f5597" stroke="#1a1a1a" stroke-width="0.7"/>
<circle cx="137.70" cy="112.70" r="3.65" fill="#2f5597" stroke="#1a1a1a" stroke-width="0.7"/>
<circle cx="143.50" cy="112.50" r="3.65" fill="#2f5597" stroke="#1a1a1a" stroke-width="0.7"/>
<circle cx="149.20" cy="111.00" r="3.65" fill="#2f5597" stroke="#1a1a1a" stroke-width="0.7"/>
<circle cx="154.40" cy="114.40" r="3.65" fill="#2f5597" stroke="#1a1a1a" stroke-width="0.7"/>
<circle cx="160.00" cy="117.00" r="3.65" fill="#2f5597" stroke="#1a1a1a" stroke-width="0.7"/>
<circle cx="165.40" cy="118.50" r="3.65" fill="#2f5597" stroke="#1a1a1a" stroke-width="0.7"/>
<circle cx="55.00" cy="129.20" r="3.65" fill="#5b2b74" stroke="#1a1a1a" stroke-width="0.7"/>
<circle cx="64.20" cy="92.80" r="3.65" fill="#5b2b74" stroke="#1a1a1a" stroke-width="0.7"/>
<circle cx="67.50" cy="100.00" r="3.65" fill="#5b2b74" stroke="#1a1a1a" stroke-width="0.7"/>
<circle cx="74.10" cy="108.60" r="3.65" fill="#5b2b74" stroke="#1a1a1a" stroke-width="0.7"/>
<circle cx="79.20" cy="110.50" r="3.65" fill="#5b2b74" stroke="#1a1a1a" stroke-width="0.7"/>
<circle cx="84.50" cy="114.30" r="3.65" fill="#5b2b74" stroke="#1a1a1a" stroke-width="0.7"/>
<circle cx="90.60" cy="111.10" r="3.65" fill="#5b2b74" stroke="#1a1a1a" stroke-width="0.7"/>
<circle cx="95.40" cy="111.50" r="3.65" fill="#5b2b74" stroke="#1a1a1a" stroke-width="0.7"/>
<circle cx="100.60" cy="108.70" r="3.65" fill="#5b2b74" stroke="#1a1a1a" stroke-width="0.7"/>
<circle cx="105.80" cy="106.30" r="3.65" fill="#5b2b74" stroke="#1a1a1a" stroke-width="0.7"/>
<circle cx="111.50" cy="111.20" r="3.65" fill="#5b2b74" stroke="#1a1a1a" stroke-width="0.7"/>
<circle cx="116.90" cy="107.50" r="3.65" fill="#5b2b74" stroke="#1a1a1a" stroke-width="0.7"/>
<circle cx="121.00" cy="117.90" r="3.65" fill="#5b2b74" stroke="#1a1a1a" stroke-width="0.7"/>
<circle cx="127.30" cy="115.60" r="3.65" fill="#5b2b74" stroke="#1a1a1a" stroke-width="0.7"/>
<circle cx="132.50" cy="116.70" r="3.65" fill="#5b2b74" stroke="#1a1a1a" stroke-width="0.7"/>
<circle cx="138.30" cy="115.90" r="3.65" fill="#5b2b74" stroke="#1a1a1a" stroke-width="0.7"/>
<circle cx="143.50" cy="114.40" r="3.65" fill="#5b2b74" stroke="#1a1a1a" stroke-width="0.7"/>
<circle cx="149.20" cy="116.70" r="3.65" fill="#5b2b74" stroke="#1a1a1a" stroke-width="0.7"/>
<circle cx="154.40" cy="117.00" r="3.65" fill="#5b2b74" stroke="#1a1a1a" stroke-width="0.7"/>
<circle cx="160.20" cy="116.70" r="3.65" fill="#5b2b74" stroke="#1a1a1a" stroke-width="0.7"/>
<circle cx="165.40" cy="112.10" r="3.65" fill="#5b2b74" stroke="#1a1a1a" stroke-width="0.7"/>
<circle cx="69.20" cy="86.90" r="2.8" fill="#fff" stroke="#4a1670" stroke-width="1.7"/>
<circle cx="73.70" cy="99.30" r="2.8" fill="#fff" stroke="#4a1670" stroke-width="1.7"/>
<circle cx="79.20" cy="106.40" r="2.8" fill="#fff" stroke="#4a1670" stroke-width="1.7"/>
<circle cx="84.50" cy="95.40" r="2.8" fill="#fff" stroke="#4a1670" stroke-width="1.7"/>
<circle cx="91.40" cy="84.60" r="2.8" fill="#fff" stroke="#4a1670" stroke-width="1.7"/>
<circle cx="95.40" cy="76.80" r="2.8" fill="#fff" stroke="#4a1670" stroke-width="1.7"/>
<circle cx="100.70" cy="73.00" r="2.8" fill="#fff" stroke="#4a1670" stroke-width="1.7"/>
<circle cx="106.20" cy="61.90" r="2.8" fill="#fff" stroke="#4a1670" stroke-width="1.7"/>
<circle cx="111.70" cy="54.20" r="2.8" fill="#fff" stroke="#4a1670" stroke-width="1.7"/>
<circle cx="116.20" cy="54.10" r="2.8" fill="#fff" stroke="#4a1670" stroke-width="1.7"/>
<circle cx="121.60" cy="54.10" r="2.8" fill="#fff" stroke="#4a1670" stroke-width="1.7"/>
<circle cx="127.40" cy="54.10" r="2.8" fill="#fff" stroke="#4a1670" stroke-width="1.7"/>
<circle cx="129.10" cy="61.90" r="2.8" fill="#fff" stroke="#4a1670" stroke-width="1.7"/>
<circle cx="133.20" cy="42.90" r="2.8" fill="#fff" stroke="#4a1670" stroke-width="1.7"/>
<circle cx="138.70" cy="46.50" r="2.8" fill="#fff" stroke="#4a1670" stroke-width="1.7"/>
<circle cx="143.90" cy="46.50" r="2.8" fill="#fff" stroke="#4a1670" stroke-width="1.7"/>
<circle cx="149.20" cy="46.70" r="2.8" fill="#fff" stroke="#4a1670" stroke-width="1.7"/>
<circle cx="155.00" cy="46.70" r="2.8" fill="#fff" stroke="#4a1670" stroke-width="1.7"/>
<circle cx="160.20" cy="46.70" r="2.8" fill="#fff" stroke="#4a1670" stroke-width="1.7"/>
<circle cx="166.00" cy="46.70" r="2.8" fill="#fff" stroke="#4a1670" stroke-width="1.7"/>
<circle cx="55.00" cy="129.20" r="3.65" fill="#6ab343" stroke="#1a1a1a" stroke-width="0.7"/>
<circle cx="64.20" cy="85.90" r="3.65" fill="#6ab343" stroke="#1a1a1a" stroke-width="0.7"/>
<circle cx="67.90" cy="110.20" r="3.65" fill="#6ab343" stroke="#1a1a1a" stroke-width="0.7"/>
<circle cx="73.50" cy="117.90" r="3.65" fill="#6ab343" stroke="#1a1a1a" stroke-width="0.7"/>
<circle cx="79.50" cy="115.60" r="3.65" fill="#6ab343" stroke="#1a1a1a" stroke-width="0.7"/>
<circle cx="84.40" cy="124.20" r="3.65" fill="#6ab343" stroke="#1a1a1a" stroke-width="0.7"/>
<circle cx="90.80" cy="126.00" r="3.65" fill="#6ab343" stroke="#1a1a1a" stroke-width="0.7"/>
<circle cx="95.40" cy="123.70" r="3.65" fill="#6ab343" stroke="#1a1a1a" stroke-width="0.7"/>
<circle cx="100.60" cy="127.10" r="3.65" fill="#6ab343" stroke="#1a1a1a" stroke-width="0.7"/>
<circle cx="105.80" cy="128.30" r="3.65" fill="#6ab343" stroke="#1a1a1a" stroke-width="0.7"/>
<circle cx="111.20" cy="128.80" r="3.65" fill="#6ab343" stroke="#1a1a1a" stroke-width="0.7"/>
<circle cx="115.80" cy="128.80" r="3.65" fill="#6ab343" stroke="#1a1a1a" stroke-width="0.7"/>
<circle cx="121.00" cy="128.30" r="3.65" fill="#6ab343" stroke="#1a1a1a" stroke-width="0.7"/>
<circle cx="127.90" cy="127.10" r="3.65" fill="#6ab343" stroke="#1a1a1a" stroke-width="0.7"/>
<circle cx="133.10" cy="124.80" r="3.65" fill="#6ab343" stroke="#1a1a1a" stroke-width="0.7"/>
<circle cx="138.30" cy="121.70" r="3.65" fill="#6ab343" stroke="#1a1a1a" stroke-width="0.7"/>
<circle cx="143.50" cy="123.10" r="3.65" fill="#6ab343" stroke="#1a1a1a" stroke-width="0.7"/>
<circle cx="149.20" cy="123.10" r="3.65" fill="#6ab343" stroke="#1a1a1a" stroke-width="0.7"/>
<circle cx="154.40" cy="121.70" r="3.65" fill="#6ab343" stroke="#1a1a1a" stroke-width="0.7"/>
<circle cx="159.60" cy="124.00" r="3.65" fill="#6ab343" stroke="#1a1a1a" stroke-width="0.7"/>
<circle cx="165.40" cy="124.00" r="3.65" fill="#6ab343" stroke="#1a1a1a" stroke-width="0.7"/>
<line x1="241.90" y1="15.20" x2="241.90" y2="131.00" stroke="#000" stroke-width="1.2"/>
<line x1="239.10" y1="128.80" x2="241.90" y2="128.80" stroke="#000" stroke-width="1.2"/>
<text x="233.30" y="131.75" font-size="8.2" text-anchor="middle">0</text>
<line x1="239.10" y1="101.20" x2="241.90" y2="101.20" stroke="#000" stroke-width="1.2"/>
<text x="233.30" y="104.15" font-size="8.2" text-anchor="middle">1</text>
<line x1="239.10" y1="73.60" x2="241.90" y2="73.60" stroke="#000" stroke-width="1.2"/>
<text x="233.30" y="76.55" font-size="8.2" text-anchor="middle">2</text>
<line x1="239.10" y1="46.00" x2="241.90" y2="46.00" stroke="#000" stroke-width="1.2"/>
<text x="233.30" y="48.95" font-size="8.2" text-anchor="middle">3</text>
<line x1="239.10" y1="18.40" x2="241.90" y2="18.40" stroke="#000" stroke-width="1.2"/>
<text x="233.30" y="21.35" font-size="8.2" text-anchor="middle">4</text>
<text x="243.90" y="145.70" font-size="8.2" text-anchor="middle">0</text>
<text x="270.80" y="145.70" font-size="8.2" text-anchor="middle">20</text>
<text x="297.70" y="145.70" font-size="8.2" text-anchor="middle">40</text>
<text x="324.60" y="145.70" font-size="8.2" text-anchor="middle">60</text>
<text x="351.50" y="145.70" font-size="8.2" text-anchor="middle">80</text>
<text x="257.50" y="159.20" font-size="10.4" textLength="83.10" lengthAdjust="spacingAndGlyphs">Days after allo-HCT</text>
<text x="225.20" y="124.00" font-size="10.4" textLength="101.60" lengthAdjust="spacingAndGlyphs" transform="rotate(-90 225.20 124.00)">Cutaneous GVHD score</text>
<line x1="278.1" y1="20.7" x2="354.2" y2="20.7" stroke="#444" stroke-width="1.3"/>
<circle cx="316.20" cy="16.80" r="1.05" fill="#333"/>
<polyline points="243.40,128.50 251.50,128.50 256.30,128.50 261.60,128.50 266.90,128.50 273.20,114.20 278.10,95.50 283.60,73.30 289.40,68.30 294.90,63.70 299.80,54.00 304.40,53.50 309.60,53.50 315.40,52.30 320.80,51.00 326.50,50.80 331.70,50.80 337.50,49.60 343.30,50.80 349.00,51.30 354.80,51.00" fill="none" stroke="#c1002d" stroke-width="0.7"/>
<polyline points="243.40,128.50 251.50,128.50 256.30,128.50 261.60,128.50 266.90,128.50 272.20,128.50 278.50,103.20 284.00,103.20 289.40,78.10 294.90,57.40 299.80,47.90 305.00,47.90 309.40,56.30 316.20,57.10 321.30,56.20 327.10,53.30 332.10,53.30 337.50,53.30 343.30,53.70 348.50,53.70 354.20,53.70" fill="none" stroke="#4a1670" stroke-width="0.7"/>
<polyline points="243.40,122.40 251.50,121.90 256.30,122.10 261.60,122.40 266.90,122.40 272.20,121.40 277.50,121.40 282.80,120.20 288.10,119.80 293.90,116.50 299.10,118.00 304.50,118.30 309.50,119.10 316.00,119.40 321.00,120.60 326.80,122.00 331.90,122.00 337.00,122.00 342.70,122.00 348.50,122.00 354.30,122.00" fill="none" stroke="#5b2b74" stroke-width="0.7"/>
<polyline points="243.40,134.40 251.50,131.00 256.30,133.90 261.60,133.90 266.90,133.90 272.20,133.90 277.50,133.90 282.80,133.90 288.10,133.80 293.90,133.60 299.10,133.60 304.50,133.60 309.50,133.60 316.00,133.60 321.00,133.60 326.80,133.60 331.90,133.60 337.00,133.60 342.70,133.60 348.50,133.60 354.30,133.60" fill="none" stroke="#6ab343" stroke-width="0.7"/>
<polyline points="243.40,128.20 251.50,126.30 256.30,128.20 261.60,128.20 266.90,128.20 272.20,128.20 277.50,128.00 282.80,128.00 288.10,127.60 293.90,127.40 299.10,127.40 304.50,127.40 309.50,127.40 316.00,127.40 321.00,127.40 326.80,127.40 331.90,127.40 337.00,127.40 342.70,127.40 348.50,127.40 354.30,127.40" fill="none" stroke="#2f5597" stroke-width="0.7"/>
<line x1="278.50" y1="96.20" x2="278.50" y2="103.20" stroke="#555" stroke-width="0.55"/>
<line x1="275.50" y1="96.20" x2="281.50" y2="96.20" stroke="#555" stroke-width="0.55"/>
<line x1="278.50" y1="103.20" x2="278.50" y2="110.20" stroke="#555" stroke-width="0.55"/>
<line x1="275.50" y1="110.20" x2="281.50" y2="110.20" stroke="#555" stroke-width="0.55"/>
<line x1="284.00" y1="95.20" x2="284.00" y2="103.20" stroke="#555" stroke-width="0.55"/>
<line x1="281.00" y1="95.20" x2="287.00" y2="95.20" stroke="#555" stroke-width="0.55"/>
<line x1="284.00" y1="103.20" x2="284.00" y2="111.20" stroke="#555" stroke-width="0.55"/>
<line x1="281.00" y1="111.20" x2="287.00" y2="111.20" stroke="#555" stroke-width="0.55"/>
<line x1="289.40" y1="54.10" x2="289.40" y2="78.10" stroke="#555" stroke-width="0.55"/>
<line x1="286.40" y1="54.10" x2="292.40" y2="54.10" stroke="#555" stroke-width="0.55"/>
<line x1="289.40" y1="78.10" x2="289.40" y2="88.10" stroke="#555" stroke-width="0.55"/>
<line x1="286.40" y1="88.10" x2="292.40" y2="88.10" stroke="#555" stroke-width="0.55"/>
<line x1="294.90" y1="25.40" x2="294.90" y2="57.40" stroke="#555" stroke-width="0.55"/>
<line x1="291.90" y1="25.40" x2="297.90" y2="25.40" stroke="#555" stroke-width="0.55"/>
<line x1="294.90" y1="57.40" x2="294.90" y2="88.40" stroke="#555" stroke-width="0.55"/>
<line x1="291.90" y1="88.40" x2="297.90" y2="88.40" stroke="#555" stroke-width="0.55"/>
<line x1="299.80" y1="25.30" x2="299.80" y2="47.90" stroke="#555" stroke-width="0.55"/>
<line x1="296.80" y1="25.30" x2="302.80" y2="25.30" stroke="#555" stroke-width="0.55"/>
<line x1="299.80" y1="47.90" x2="299.80" y2="70.50" stroke="#555" stroke-width="0.55"/>
<line x1="296.80" y1="70.50" x2="302.80" y2="70.50" stroke="#555" stroke-width="0.55"/>
<line x1="305.00" y1="25.30" x2="305.00" y2="47.90" stroke="#555" stroke-width="0.55"/>
<line x1="302.00" y1="25.30" x2="308.00" y2="25.30" stroke="#555" stroke-width="0.55"/>
<line x1="305.00" y1="47.90" x2="305.00" y2="70.50" stroke="#555" stroke-width="0.55"/>
<line x1="302.00" y1="70.50" x2="308.00" y2="70.50" stroke="#555" stroke-width="0.55"/>
<line x1="309.40" y1="38.30" x2="309.40" y2="56.30" stroke="#555" stroke-width="0.55"/>
<line x1="306.40" y1="38.30" x2="312.40" y2="38.30" stroke="#555" stroke-width="0.55"/>
<line x1="309.40" y1="56.30" x2="309.40" y2="74.30" stroke="#555" stroke-width="0.55"/>
<line x1="306.40" y1="74.30" x2="312.40" y2="74.30" stroke="#555" stroke-width="0.55"/>
<line x1="316.20" y1="39.10" x2="316.20" y2="57.10" stroke="#555" stroke-width="0.55"/>
<line x1="313.20" y1="39.10" x2="319.20" y2="39.10" stroke="#555" stroke-width="0.55"/>
<line x1="316.20" y1="57.10" x2="316.20" y2="75.10" stroke="#555" stroke-width="0.55"/>
<line x1="313.20" y1="75.10" x2="319.20" y2="75.10" stroke="#555" stroke-width="0.55"/>
<line x1="321.30" y1="38.20" x2="321.30" y2="56.20" stroke="#555" stroke-width="0.55"/>
<line x1="318.30" y1="38.20" x2="324.30" y2="38.20" stroke="#555" stroke-width="0.55"/>
<line x1="321.30" y1="56.20" x2="321.30" y2="74.20" stroke="#555" stroke-width="0.55"/>
<line x1="318.30" y1="74.20" x2="324.30" y2="74.20" stroke="#555" stroke-width="0.55"/>
<line x1="327.10" y1="33.70" x2="327.10" y2="53.30" stroke="#555" stroke-width="0.55"/>
<line x1="324.10" y1="33.70" x2="330.10" y2="33.70" stroke="#555" stroke-width="0.55"/>
<line x1="327.10" y1="53.30" x2="327.10" y2="72.90" stroke="#555" stroke-width="0.55"/>
<line x1="324.10" y1="72.90" x2="330.10" y2="72.90" stroke="#555" stroke-width="0.55"/>
<line x1="332.10" y1="33.70" x2="332.10" y2="53.30" stroke="#555" stroke-width="0.55"/>
<line x1="329.10" y1="33.70" x2="335.10" y2="33.70" stroke="#555" stroke-width="0.55"/>
<line x1="332.10" y1="53.30" x2="332.10" y2="72.90" stroke="#555" stroke-width="0.55"/>
<line x1="329.10" y1="72.90" x2="335.10" y2="72.90" stroke="#555" stroke-width="0.55"/>
<line x1="337.50" y1="33.70" x2="337.50" y2="53.30" stroke="#555" stroke-width="0.55"/>
<line x1="334.50" y1="33.70" x2="340.50" y2="33.70" stroke="#555" stroke-width="0.55"/>
<line x1="337.50" y1="53.30" x2="337.50" y2="72.90" stroke="#555" stroke-width="0.55"/>
<line x1="334.50" y1="72.90" x2="340.50" y2="72.90" stroke="#555" stroke-width="0.55"/>
<line x1="343.30" y1="34.10" x2="343.30" y2="53.70" stroke="#555" stroke-width="0.55"/>
<line x1="340.30" y1="34.10" x2="346.30" y2="34.10" stroke="#555" stroke-width="0.55"/>
<line x1="343.30" y1="53.70" x2="343.30" y2="73.30" stroke="#555" stroke-width="0.55"/>
<line x1="340.30" y1="73.30" x2="346.30" y2="73.30" stroke="#555" stroke-width="0.55"/>
<line x1="348.50" y1="34.10" x2="348.50" y2="53.70" stroke="#555" stroke-width="0.55"/>
<line x1="345.50" y1="34.10" x2="351.50" y2="34.10" stroke="#555" stroke-width="0.55"/>
<line x1="348.50" y1="53.70" x2="348.50" y2="73.30" stroke="#555" stroke-width="0.55"/>
<line x1="345.50" y1="73.30" x2="351.50" y2="73.30" stroke="#555" stroke-width="0.55"/>
<line x1="354.20" y1="34.10" x2="354.20" y2="53.70" stroke="#555" stroke-width="0.55"/>
<line x1="351.20" y1="34.10" x2="357.20" y2="34.10" stroke="#555" stroke-width="0.55"/>
<line x1="354.20" y1="53.70" x2="354.20" y2="73.30" stroke="#555" stroke-width="0.55"/>
<line x1="351.20" y1="73.30" x2="357.20" y2="73.30" stroke="#555" stroke-width="0.55"/>
<line x1="273.20" y1="110.20" x2="273.20" y2="114.20" stroke="#555" stroke-width="0.55"/>
<line x1="270.20" y1="110.20" x2="276.20" y2="110.20" stroke="#555" stroke-width="0.55"/>
<line x1="273.20" y1="114.20" x2="273.20" y2="118.20" stroke="#555" stroke-width="0.55"/>
<line x1="270.20" y1="118.20" x2="276.20" y2="118.20" stroke="#555" stroke-width="0.55"/>
<line x1="278.10" y1="89.50" x2="278.10" y2="95.50" stroke="#555" stroke-width="0.55"/>
<line x1="275.10" y1="89.50" x2="281.10" y2="89.50" stroke="#555" stroke-width="0.55"/>
<line x1="278.10" y1="95.50" x2="278.10" y2="101.50" stroke="#555" stroke-width="0.55"/>
<line x1="275.10" y1="101.50" x2="281.10" y2="101.50" stroke="#555" stroke-width="0.55"/>
<line x1="283.60" y1="66.30" x2="283.60" y2="73.30" stroke="#555" stroke-width="0.55"/>
<line x1="280.60" y1="66.30" x2="286.60" y2="66.30" stroke="#555" stroke-width="0.55"/>
<line x1="283.60" y1="73.30" x2="283.60" y2="80.30" stroke="#555" stroke-width="0.55"/>
<line x1="280.60" y1="80.30" x2="286.60" y2="80.30" stroke="#555" stroke-width="0.55"/>
<line x1="289.40" y1="61.30" x2="289.40" y2="68.30" stroke="#555" stroke-width="0.55"/>
<line x1="286.40" y1="61.30" x2="292.40" y2="61.30" stroke="#555" stroke-width="0.55"/>
<line x1="289.40" y1="68.30" x2="289.40" y2="75.30" stroke="#555" stroke-width="0.55"/>
<line x1="286.40" y1="75.30" x2="292.40" y2="75.30" stroke="#555" stroke-width="0.55"/>
<line x1="294.90" y1="56.70" x2="294.90" y2="63.70" stroke="#555" stroke-width="0.55"/>
<line x1="291.90" y1="56.70" x2="297.90" y2="56.70" stroke="#555" stroke-width="0.55"/>
<line x1="294.90" y1="63.70" x2="294.90" y2="70.70" stroke="#555" stroke-width="0.55"/>
<line x1="291.90" y1="70.70" x2="297.90" y2="70.70" stroke="#555" stroke-width="0.55"/>
<line x1="299.80" y1="46.00" x2="299.80" y2="54.00" stroke="#555" stroke-width="0.55"/>
<line x1="296.80" y1="46.00" x2="302.80" y2="46.00" stroke="#555" stroke-width="0.55"/>
<line x1="299.80" y1="54.00" x2="299.80" y2="62.00" stroke="#555" stroke-width="0.55"/>
<line x1="296.80" y1="62.00" x2="302.80" y2="62.00" stroke="#555" stroke-width="0.55"/>
<line x1="304.40" y1="45.50" x2="304.40" y2="53.50" stroke="#555" stroke-width="0.55"/>
<line x1="301.40" y1="45.50" x2="307.40" y2="45.50" stroke="#555" stroke-width="0.55"/>
<line x1="304.40" y1="53.50" x2="304.40" y2="61.50" stroke="#555" stroke-width="0.55"/>
<line x1="301.40" y1="61.50" x2="307.40" y2="61.50" stroke="#555" stroke-width="0.55"/>
<line x1="309.60" y1="45.50" x2="309.60" y2="53.50" stroke="#555" stroke-width="0.55"/>
<line x1="306.60" y1="45.50" x2="312.60" y2="45.50" stroke="#555" stroke-width="0.55"/>
<line x1="309.60" y1="53.50" x2="309.60" y2="61.50" stroke="#555" stroke-width="0.55"/>
<line x1="306.60" y1="61.50" x2="312.60" y2="61.50" stroke="#555" stroke-width="0.55"/>
<line x1="315.40" y1="44.30" x2="315.40" y2="52.30" stroke="#555" stroke-width="0.55"/>
<line x1="312.40" y1="44.30" x2="318.40" y2="44.30" stroke="#555" stroke-width="0.55"/>
<line x1="315.40" y1="52.30" x2="315.40" y2="60.30" stroke="#555" stroke-width="0.55"/>
<line x1="312.40" y1="60.30" x2="318.40" y2="60.30" stroke="#555" stroke-width="0.55"/>
<line x1="320.80" y1="43.00" x2="320.80" y2="51.00" stroke="#555" stroke-width="0.55"/>
<line x1="317.80" y1="43.00" x2="323.80" y2="43.00" stroke="#555" stroke-width="0.55"/>
<line x1="320.80" y1="51.00" x2="320.80" y2="59.00" stroke="#555" stroke-width="0.55"/>
<line x1="317.80" y1="59.00" x2="323.80" y2="59.00" stroke="#555" stroke-width="0.55"/>
<line x1="326.50" y1="42.80" x2="326.50" y2="50.80" stroke="#555" stroke-width="0.55"/>
<line x1="323.50" y1="42.80" x2="329.50" y2="42.80" stroke="#555" stroke-width="0.55"/>
<line x1="326.50" y1="50.80" x2="326.50" y2="58.80" stroke="#555" stroke-width="0.55"/>
<line x1="323.50" y1="58.80" x2="329.50" y2="58.80" stroke="#555" stroke-width="0.55"/>
<line x1="331.70" y1="42.80" x2="331.70" y2="50.80" stroke="#555" stroke-width="0.55"/>
<line x1="328.70" y1="42.80" x2="334.70" y2="42.80" stroke="#555" stroke-width="0.55"/>
<line x1="331.70" y1="50.80" x2="331.70" y2="58.80" stroke="#555" stroke-width="0.55"/>
<line x1="328.70" y1="58.80" x2="334.70" y2="58.80" stroke="#555" stroke-width="0.55"/>
<line x1="337.50" y1="41.60" x2="337.50" y2="49.60" stroke="#555" stroke-width="0.55"/>
<line x1="334.50" y1="41.60" x2="340.50" y2="41.60" stroke="#555" stroke-width="0.55"/>
<line x1="337.50" y1="49.60" x2="337.50" y2="57.60" stroke="#555" stroke-width="0.55"/>
<line x1="334.50" y1="57.60" x2="340.50" y2="57.60" stroke="#555" stroke-width="0.55"/>
<line x1="343.30" y1="42.80" x2="343.30" y2="50.80" stroke="#555" stroke-width="0.55"/>
<line x1="340.30" y1="42.80" x2="346.30" y2="42.80" stroke="#555" stroke-width="0.55"/>
<line x1="343.30" y1="50.80" x2="343.30" y2="58.80" stroke="#555" stroke-width="0.55"/>
<line x1="340.30" y1="58.80" x2="346.30" y2="58.80" stroke="#555" stroke-width="0.55"/>
<line x1="349.00" y1="43.30" x2="349.00" y2="51.30" stroke="#555" stroke-width="0.55"/>
<line x1="346.00" y1="43.30" x2="352.00" y2="43.30" stroke="#555" stroke-width="0.55"/>
<line x1="349.00" y1="51.30" x2="349.00" y2="59.30" stroke="#555" stroke-width="0.55"/>
<line x1="346.00" y1="59.30" x2="352.00" y2="59.30" stroke="#555" stroke-width="0.55"/>
<line x1="354.80" y1="43.00" x2="354.80" y2="51.00" stroke="#555" stroke-width="0.55"/>
<line x1="351.80" y1="43.00" x2="357.80" y2="43.00" stroke="#555" stroke-width="0.55"/>
<line x1="354.80" y1="51.00" x2="354.80" y2="59.00" stroke="#555" stroke-width="0.55"/>
<line x1="351.80" y1="59.00" x2="357.80" y2="59.00" stroke="#555" stroke-width="0.55"/>
<line x1="316.30" y1="39.20" x2="316.30" y2="75.00" stroke="#000" stroke-width="1.4"/>
<line x1="313.80" y1="39.20" x2="318.80" y2="39.20" stroke="#000" stroke-width="1.0"/>
<line x1="313.80" y1="75.00" x2="318.80" y2="75.00" stroke="#000" stroke-width="1.0"/>
<circle cx="243.40" cy="128.50" r="3.65" fill="#c1002d" stroke="#1a1a1a" stroke-width="0.7"/>
<circle cx="251.50" cy="128.50" r="3.65" fill="#c1002d" stroke="#1a1a1a" stroke-width="0.7"/>
<circle cx="256.30" cy="128.50" r="3.65" fill="#c1002d" stroke="#1a1a1a" stroke-width="0.7"/>
<circle cx="261.60" cy="128.50" r="3.65" fill="#c1002d" stroke="#1a1a1a" stroke-width="0.7"/>
<circle cx="266.90" cy="128.50" r="3.65" fill="#c1002d" stroke="#1a1a1a" stroke-width="0.7"/>
<circle cx="273.20" cy="114.20" r="3.65" fill="#c1002d" stroke="#1a1a1a" stroke-width="0.7"/>
<circle cx="278.10" cy="95.50" r="3.65" fill="#c1002d" stroke="#1a1a1a" stroke-width="0.7"/>
<circle cx="283.60" cy="73.30" r="3.65" fill="#c1002d" stroke="#1a1a1a" stroke-width="0.7"/>
<circle cx="289.40" cy="68.30" r="3.65" fill="#c1002d" stroke="#1a1a1a" stroke-width="0.7"/>
<circle cx="294.90" cy="63.70" r="3.65" fill="#c1002d" stroke="#1a1a1a" stroke-width="0.7"/>
<circle cx="299.80" cy="54.00" r="3.65" fill="#c1002d" stroke="#1a1a1a" stroke-width="0.7"/>
<circle cx="304.40" cy="53.50" r="3.65" fill="#c1002d" stroke="#1a1a1a" stroke-width="0.7"/>
<circle cx="309.60" cy="53.50" r="3.65" fill="#c1002d" stroke="#1a1a1a" stroke-width="0.7"/>
<circle cx="315.40" cy="52.30" r="3.65" fill="#c1002d" stroke="#1a1a1a" stroke-width="0.7"/>
<circle cx="320.80" cy="51.00" r="3.65" fill="#c1002d" stroke="#1a1a1a" stroke-width="0.7"/>
<circle cx="326.50" cy="50.80" r="3.65" fill="#c1002d" stroke="#1a1a1a" stroke-width="0.7"/>
<circle cx="331.70" cy="50.80" r="3.65" fill="#c1002d" stroke="#1a1a1a" stroke-width="0.7"/>
<circle cx="337.50" cy="49.60" r="3.65" fill="#c1002d" stroke="#1a1a1a" stroke-width="0.7"/>
<circle cx="343.30" cy="50.80" r="3.65" fill="#c1002d" stroke="#1a1a1a" stroke-width="0.7"/>
<circle cx="349.00" cy="51.30" r="3.65" fill="#c1002d" stroke="#1a1a1a" stroke-width="0.7"/>
<circle cx="354.80" cy="51.00" r="3.65" fill="#c1002d" stroke="#1a1a1a" stroke-width="0.7"/>
<circle cx="243.40" cy="128.50" r="2.8" fill="#fff" stroke="#4a1670" stroke-width="1.7"/>
<circle cx="251.50" cy="128.50" r="2.8" fill="#fff" stroke="#4a1670" stroke-width="1.7"/>
<circle cx="256.30" cy="128.50" r="2.8" fill="#fff" stroke="#4a1670" stroke-width="1.7"/>
<circle cx="261.60" cy="128.50" r="2.8" fill="#fff" stroke="#4a1670" stroke-width="1.7"/>
<circle cx="266.90" cy="128.50" r="2.8" fill="#fff" stroke="#4a1670" stroke-width="1.7"/>
<circle cx="272.20" cy="128.50" r="2.8" fill="#fff" stroke="#4a1670" stroke-width="1.7"/>
<circle cx="278.50" cy="103.20" r="2.8" fill="#fff" stroke="#4a1670" stroke-width="1.7"/>
<circle cx="284.00" cy="103.20" r="2.8" fill="#fff" stroke="#4a1670" stroke-width="1.7"/>
<circle cx="289.40" cy="78.10" r="2.8" fill="#fff" stroke="#4a1670" stroke-width="1.7"/>
<circle cx="294.90" cy="57.40" r="2.8" fill="#fff" stroke="#4a1670" stroke-width="1.7"/>
<circle cx="299.80" cy="47.90" r="2.8" fill="#fff" stroke="#4a1670" stroke-width="1.7"/>
<circle cx="305.00" cy="47.90" r="2.8" fill="#fff" stroke="#4a1670" stroke-width="1.7"/>
<circle cx="309.40" cy="56.30" r="2.8" fill="#fff" stroke="#4a1670" stroke-width="1.7"/>
<circle cx="316.20" cy="57.10" r="2.8" fill="#fff" stroke="#4a1670" stroke-width="1.7"/>
<circle cx="321.30" cy="56.20" r="2.8" fill="#fff" stroke="#4a1670" stroke-width="1.7"/>
<circle cx="327.10" cy="53.30" r="2.8" fill="#fff" stroke="#4a1670" stroke-width="1.7"/>
<circle cx="332.10" cy="53.30" r="2.8" fill="#fff" stroke="#4a1670" stroke-width="1.7"/>
<circle cx="337.50" cy="53.30" r="2.8" fill="#fff" stroke="#4a1670" stroke-width="1.7"/>
<circle cx="343.30" cy="53.70" r="2.8" fill="#fff" stroke="#4a1670" stroke-width="1.7"/>
<circle cx="348.50" cy="53.70" r="2.8" fill="#fff" stroke="#4a1670" stroke-width="1.7"/>
<circle cx="354.20" cy="53.70" r="2.8" fill="#fff" stroke="#4a1670" stroke-width="1.7"/>
<circle cx="243.40" cy="122.40" r="3.65" fill="#5b2b74" stroke="#1a1a1a" stroke-width="0.7"/>
<circle cx="251.50" cy="121.90" r="3.65" fill="#5b2b74" stroke="#1a1a1a" stroke-width="0.7"/>
<circle cx="256.30" cy="122.10" r="3.65" fill="#5b2b74" stroke="#1a1a1a" stroke-width="0.7"/>
<circle cx="261.60" cy="122.40" r="3.65" fill="#5b2b74" stroke="#1a1a1a" stroke-width="0.7"/>
<circle cx="266.90" cy="122.40" r="3.65" fill="#5b2b74" stroke="#1a1a1a" stroke-width="0.7"/>
<circle cx="272.20" cy="121.40" r="3.65" fill="#5b2b74" stroke="#1a1a1a" stroke-width="0.7"/>
<circle cx="277.50" cy="121.40" r="3.65" fill="#5b2b74" stroke="#1a1a1a" stroke-width="0.7"/>
<circle cx="282.80" cy="120.20" r="3.65" fill="#5b2b74" stroke="#1a1a1a" stroke-width="0.7"/>
<circle cx="288.10" cy="119.80" r="3.65" fill="#5b2b74" stroke="#1a1a1a" stroke-width="0.7"/>
<circle cx="293.90" cy="116.50" r="3.65" fill="#5b2b74" stroke="#1a1a1a" stroke-width="0.7"/>
<circle cx="299.10" cy="118.00" r="3.65" fill="#5b2b74" stroke="#1a1a1a" stroke-width="0.7"/>
<circle cx="304.50" cy="118.30" r="3.65" fill="#5b2b74" stroke="#1a1a1a" stroke-width="0.7"/>
<circle cx="309.50" cy="119.10" r="3.65" fill="#5b2b74" stroke="#1a1a1a" stroke-width="0.7"/>
<circle cx="316.00" cy="119.40" r="3.65" fill="#5b2b74" stroke="#1a1a1a" stroke-width="0.7"/>
<circle cx="321.00" cy="120.60" r="3.65" fill="#5b2b74" stroke="#1a1a1a" stroke-width="0.7"/>
<circle cx="326.80" cy="122.00" r="3.65" fill="#5b2b74" stroke="#1a1a1a" stroke-width="0.7"/>
<circle cx="331.90" cy="122.00" r="3.65" fill="#5b2b74" stroke="#1a1a1a" stroke-width="0.7"/>
<circle cx="337.00" cy="122.00" r="3.65" fill="#5b2b74" stroke="#1a1a1a" stroke-width="0.7"/>
<circle cx="342.70" cy="122.00" r="3.65" fill="#5b2b74" stroke="#1a1a1a" stroke-width="0.7"/>
<circle cx="348.50" cy="122.00" r="3.65" fill="#5b2b74" stroke="#1a1a1a" stroke-width="0.7"/>
<circle cx="354.30" cy="122.00" r="3.65" fill="#5b2b74" stroke="#1a1a1a" stroke-width="0.7"/>
<circle cx="243.40" cy="134.40" r="3.65" fill="#6ab343" stroke="#1a1a1a" stroke-width="0.7"/>
<circle cx="251.50" cy="131.00" r="3.65" fill="#6ab343" stroke="#1a1a1a" stroke-width="0.7"/>
<circle cx="256.30" cy="133.90" r="3.65" fill="#6ab343" stroke="#1a1a1a" stroke-width="0.7"/>
<circle cx="261.60" cy="133.90" r="3.65" fill="#6ab343" stroke="#1a1a1a" stroke-width="0.7"/>
<circle cx="266.90" cy="133.90" r="3.65" fill="#6ab343" stroke="#1a1a1a" stroke-width="0.7"/>
<circle cx="272.20" cy="133.90" r="3.65" fill="#6ab343" stroke="#1a1a1a" stroke-width="0.7"/>
<circle cx="277.50" cy="133.90" r="3.65" fill="#6ab343" stroke="#1a1a1a" stroke-width="0.7"/>
<circle cx="282.80" cy="133.90" r="3.65" fill="#6ab343" stroke="#1a1a1a" stroke-width="0.7"/>
<circle cx="288.10" cy="133.80" r="3.65" fill="#6ab343" stroke="#1a1a1a" stroke-width="0.7"/>
<circle cx="293.90" cy="133.60" r="3.65" fill="#6ab343" stroke="#1a1a1a" stroke-width="0.7"/>
<circle cx="299.10" cy="133.60" r="3.65" fill="#6ab343" stroke="#1a1a1a" stroke-width="0.7"/>
<circle cx="304.50" cy="133.60" r="3.65" fill="#6ab343" stroke="#1a1a1a" stroke-width="0.7"/>
<circle cx="309.50" cy="133.60" r="3.65" fill="#6ab343" stroke="#1a1a1a" stroke-width="0.7"/>
<circle cx="316.00" cy="133.60" r="3.65" fill="#6ab343" stroke="#1a1a1a" stroke-width="0.7"/>
<circle cx="321.00" cy="133.60" r="3.65" fill="#6ab343" stroke="#1a1a1a" stroke-width="0.7"/>
<circle cx="326.80" cy="133.60" r="3.65" fill="#6ab343" stroke="#1a1a1a" stroke-width="0.7"/>
<circle cx="331.90" cy="133.60" r="3.65" fill="#6ab343" stroke="#1a1a1a" stroke-width="0.7"/>
<circle cx="337.00" cy="133.60" r="3.65" fill="#6ab343" stroke="#1a1a1a" stroke-width="0.7"/>
<circle cx="342.70" cy="133.60" r="3.65" fill="#6ab343" stroke="#1a1a1a" stroke-width="0.7"/>
<circle cx="348.50" cy="133.60" r="3.65" fill="#6ab343" stroke="#1a1a1a" stroke-width="0.7"/>
<circle cx="354.30" cy="133.60" r="3.65" fill="#6ab343" stroke="#1a1a1a" stroke-width="0.7"/>
<circle cx="243.40" cy="128.20" r="3.65" fill="#2f5597" stroke="#1a1a1a" stroke-width="0.7"/>
<circle cx="251.50" cy="126.30" r="3.65" fill="#2f5597" stroke="#1a1a1a" stroke-width="0.7"/>
<circle cx="256.30" cy="128.20" r="3.65" fill="#2f5597" stroke="#1a1a1a" stroke-width="0.7"/>
<circle cx="261.60" cy="128.20" r="3.65" fill="#2f5597" stroke="#1a1a1a" stroke-width="0.7"/>
<circle cx="266.90" cy="128.20" r="3.65" fill="#2f5597" stroke="#1a1a1a" stroke-width="0.7"/>
<circle cx="272.20" cy="128.20" r="3.65" fill="#2f5597" stroke="#1a1a1a" stroke-width="0.7"/>
<circle cx="277.50" cy="128.00" r="3.65" fill="#2f5597" stroke="#1a1a1a" stroke-width="0.7"/>
<circle cx="282.80" cy="128.00" r="3.65" fill="#2f5597" stroke="#1a1a1a" stroke-width="0.7"/>
<circle cx="288.10" cy="127.60" r="3.65" fill="#2f5597" stroke="#1a1a1a" stroke-width="0.7"/>
<circle cx="293.90" cy="127.40" r="3.65" fill="#2f5597" stroke="#1a1a1a" stroke-width="0.7"/>
<circle cx="299.10" cy="127.40" r="3.65" fill="#2f5597" stroke="#1a1a1a" stroke-width="0.7"/>
<circle cx="304.50" cy="127.40" r="3.65" fill="#2f5597" stroke="#1a1a1a" stroke-width="0.7"/>
<circle cx="309.50" cy="127.40" r="3.65" fill="#2f5597" stroke="#1a1a1a" stroke-width="0.7"/>
<circle cx="316.00" cy="127.40" r="3.65" fill="#2f5597" stroke="#1a1a1a" stroke-width="0.7"/>
<circle cx="321.00" cy="127.40" r="3.65" fill="#2f5597" stroke="#1a1a1a" stroke-width="0.7"/>
<circle cx="326.80" cy="127.40" r="3.65" fill="#2f5597" stroke="#1a1a1a" stroke-width="0.7"/>
<circle cx="331.90" cy="127.40" r="3.65" fill="#2f5597" stroke="#1a1a1a" stroke-width="0.7"/>
<circle cx="337.00" cy="127.40" r="3.65" fill="#2f5597" stroke="#1a1a1a" stroke-width="0.7"/>
<circle cx="342.70" cy="127.40" r="3.65" fill="#2f5597" stroke="#1a1a1a" stroke-width="0.7"/>
<circle cx="348.50" cy="127.40" r="3.65" fill="#2f5597" stroke="#1a1a1a" stroke-width="0.7"/>
<circle cx="354.30" cy="127.40" r="3.65" fill="#2f5597" stroke="#1a1a1a" stroke-width="0.7"/>
<circle cx="366.90" cy="89.50" r="3.45" fill="#6ab343" stroke="#1a1a1a" stroke-width="0.65"/>
<text x="374.40" y="91.90" font-size="7.6" textLength="26.60" lengthAdjust="spacingAndGlyphs">TCD BM</text>
<circle cx="366.90" cy="99.05" r="3.45" fill="#c1002d" stroke="#1a1a1a" stroke-width="0.65"/>
<text x="374.40" y="101.45" font-size="7.6" textLength="101.40" lengthAdjust="spacingAndGlyphs">TCD BM + WT T cells + isotype</text>
<circle cx="366.90" cy="108.60" r="2.9" fill="#fff" stroke="#4a1670" stroke-width="1.9"/>
<text x="374.40" y="111.00" font-size="7.6" textLength="104.70" lengthAdjust="spacingAndGlyphs">TCD BM + WT T cells + anti-Dll1</text>
<circle cx="366.90" cy="118.15" r="3.45" fill="#5b2b74" stroke="#1a1a1a" stroke-width="0.65"/>
<text x="374.40" y="120.55" font-size="7.6" textLength="105.70" lengthAdjust="spacingAndGlyphs">TCD BM + WT T cells + anti-Dll4</text>
<circle cx="366.90" cy="127.70" r="3.45" fill="#2f5597" stroke="#1a1a1a" stroke-width="0.65"/>
<text x="374.40" y="130.10" font-size="7.6" textLength="112.80" lengthAdjust="spacingAndGlyphs">TCD BM + WT T cells + anti-Dll1/4</text>
<line x1="53.40" y1="183.90" x2="53.40" y2="302.40" stroke="#000" stroke-width="1.1"/>
<line x1="50.20" y1="300.00" x2="53.40" y2="300.00" stroke="#000" stroke-width="1.1"/>
<text x="46.60" y="303.10" font-size="8.6" text-anchor="end">0</text>
<line x1="50.20" y1="277.50" x2="53.40" y2="277.50" stroke="#000" stroke-width="1.1"/>
<text x="46.60" y="280.60" font-size="8.6" text-anchor="end">2</text>
<line x1="50.20" y1="255.00" x2="53.40" y2="255.00" stroke="#000" stroke-width="1.1"/>
<text x="46.60" y="258.10" font-size="8.6" text-anchor="end">4</text>
<line x1="50.20" y1="232.50" x2="53.40" y2="232.50" stroke="#000" stroke-width="1.1"/>
<text x="46.60" y="235.60" font-size="8.6" text-anchor="end">6</text>
<line x1="50.20" y1="210.00" x2="53.40" y2="210.00" stroke="#000" stroke-width="1.1"/>
<text x="46.60" y="213.10" font-size="8.6" text-anchor="end">8</text>
<line x1="50.20" y1="187.50" x2="53.40" y2="187.50" stroke="#000" stroke-width="1.1"/>
<text x="46.60" y="190.60" font-size="8.6" text-anchor="end">10</text>
<line x1="53.40" y1="301.80" x2="167.50" y2="301.80" stroke="#000" stroke-width="1.3"/>
<line x1="55.40" y1="301.80" x2="55.40" y2="304.80" stroke="#000" stroke-width="1.3"/>
<text x="55.40" y="316.40" font-size="8.6" text-anchor="middle">0</text>
<line x1="82.40" y1="301.80" x2="82.40" y2="304.80" stroke="#000" stroke-width="1.3"/>
<text x="82.40" y="316.40" font-size="8.6" text-anchor="middle">20</text>
<line x1="109.40" y1="301.80" x2="109.40" y2="304.80" stroke="#000" stroke-width="1.3"/>
<text x="109.40" y="316.40" font-size="8.6" text-anchor="middle">40</text>
<line x1="136.40" y1="301.80" x2="136.40" y2="304.80" stroke="#000" stroke-width="1.3"/>
<text x="136.40" y="316.40" font-size="8.6" text-anchor="middle">60</text>
<line x1="163.40" y1="301.80" x2="163.40" y2="304.80" stroke="#000" stroke-width="1.3"/>
<text x="163.40" y="316.40" font-size="8.6" text-anchor="middle">80</text>
<text x="68.30" y="330.20" font-size="10.4" textLength="83.20" lengthAdjust="spacingAndGlyphs">Days after allo-HCT</text>
<text x="31.30" y="289.30" font-size="10.4" textLength="92.90" lengthAdjust="spacingAndGlyphs" transform="rotate(-90 31.30 289.30)">Systemic GVHD score</text>
<polyline points="55.00,299.90 64.80,258.00 68.80,273.00 74.20,290.00 79.80,287.90 85.00,289.60 91.70,287.50 96.00,287.30 101.20,290.80 106.80,292.50" fill="none" stroke="#2f5597" stroke-width="0.7"/>
<polyline points="128.10,288.80 128.10,292.50 133.80,290.30 139.00,284.40 144.40,288.10 149.40,285.60 155.00,289.40 160.60,290.60 166.30,291.00" fill="none" stroke="#2f5597" stroke-width="0.7"/>
<polyline points="55.00,299.90 64.50,253.60 69.40,254.60 74.20,282.00 79.80,292.50 85.20,283.30 91.70,274.60 95.60,270.60 101.20,271.20 106.80,269.40 112.40,265.10 117.50,261.30 121.90,265.00 128.80,265.00 128.80,269.40 133.80,260.60 139.00,263.10 144.80,260.00 149.40,263.80 155.00,266.30 160.60,268.10 166.30,259.40" fill="none" stroke="#5b2b74" stroke-width="0.7"/>
<polyline points="55.00,299.90 64.60,254.00 69.40,255.00 74.10,280.50 79.80,281.00 85.00,278.40 90.80,259.00 95.40,255.90 101.20,252.10 106.60,248.20 112.30,247.60 117.50,246.30 122.30,245.00 129.40,241.30 138.80,236.90 144.40,234.40 149.40,234.40 155.00,241.00 160.60,245.60 166.30,239.40" fill="none" stroke="#4a1670" stroke-width="0.7"/>
<polyline points="55.00,299.90 64.80,257.10 69.40,263.50 74.00,285.00 79.80,282.40 85.00,274.40 91.70,265.20 95.40,260.80 100.90,258.70 106.50,258.40 111.30,255.00 116.90,255.00 121.30,252.80 126.90,254.40 129.40,254.00 133.10,254.40 138.80,251.90 144.40,249.80 149.40,250.60 155.00,253.10 160.00,251.30 166.00,250.00" fill="none" stroke="#c1002d" stroke-width="0.7"/>
<polyline points="55.00,299.90 64.80,266.30 68.80,293.10 74.00,298.80 79.50,297.70 84.80,295.60 91.00,296.00 96.00,296.00 101.20,296.30 106.30,298.80 111.80,296.50 116.90,296.30 121.90,298.80 128.80,299.40 133.80,298.10 138.80,296.90 144.40,297.50 149.40,296.00 155.00,295.60 160.00,297.30 166.30,297.30" fill="none" stroke="#6ab343" stroke-width="0.7"/>
<line x1="90.80" y1="248.50" x2="90.80" y2="259.00" stroke="#555" stroke-width="0.55"/>
<line x1="88.30" y1="248.50" x2="93.30" y2="248.50" stroke="#555" stroke-width="0.55"/>
<line x1="90.80" y1="259.00" x2="90.80" y2="266.00" stroke="#555" stroke-width="0.55"/>
<line x1="88.30" y1="266.00" x2="93.30" y2="266.00" stroke="#555" stroke-width="0.55"/>
<line x1="95.40" y1="245.40" x2="95.40" y2="255.90" stroke="#555" stroke-width="0.55"/>
<line x1="92.90" y1="245.40" x2="97.90" y2="245.40" stroke="#555" stroke-width="0.55"/>
<line x1="95.40" y1="255.90" x2="95.40" y2="262.90" stroke="#555" stroke-width="0.55"/>
<line x1="92.90" y1="262.90" x2="97.90" y2="262.90" stroke="#555" stroke-width="0.55"/>
<line x1="101.20" y1="241.60" x2="101.20" y2="252.10" stroke="#555" stroke-width="0.55"/>
<line x1="98.70" y1="241.60" x2="103.70" y2="241.60" stroke="#555" stroke-width="0.55"/>
<line x1="101.20" y1="252.10" x2="101.20" y2="259.10" stroke="#555" stroke-width="0.55"/>
<line x1="98.70" y1="259.10" x2="103.70" y2="259.10" stroke="#555" stroke-width="0.55"/>
<line x1="106.60" y1="237.70" x2="106.60" y2="248.20" stroke="#555" stroke-width="0.55"/>
<line x1="104.10" y1="237.70" x2="109.10" y2="237.70" stroke="#555" stroke-width="0.55"/>
<line x1="106.60" y1="248.20" x2="106.60" y2="255.20" stroke="#555" stroke-width="0.55"/>
<line x1="104.10" y1="255.20" x2="109.10" y2="255.20" stroke="#555" stroke-width="0.55"/>
<line x1="112.30" y1="237.10" x2="112.30" y2="247.60" stroke="#555" stroke-width="0.55"/>
<line x1="109.80" y1="237.10" x2="114.80" y2="237.10" stroke="#555" stroke-width="0.55"/>
<line x1="112.30" y1="247.60" x2="112.30" y2="254.60" stroke="#555" stroke-width="0.55"/>
<line x1="109.80" y1="254.60" x2="114.80" y2="254.60" stroke="#555" stroke-width="0.55"/>
<line x1="117.50" y1="235.80" x2="117.50" y2="246.30" stroke="#555" stroke-width="0.55"/>
<line x1="115.00" y1="235.80" x2="120.00" y2="235.80" stroke="#555" stroke-width="0.55"/>
<line x1="117.50" y1="246.30" x2="117.50" y2="253.30" stroke="#555" stroke-width="0.55"/>
<line x1="115.00" y1="253.30" x2="120.00" y2="253.30" stroke="#555" stroke-width="0.55"/>
<line x1="122.30" y1="234.50" x2="122.30" y2="245.00" stroke="#555" stroke-width="0.55"/>
<line x1="119.80" y1="234.50" x2="124.80" y2="234.50" stroke="#555" stroke-width="0.55"/>
<line x1="122.30" y1="245.00" x2="122.30" y2="252.00" stroke="#555" stroke-width="0.55"/>
<line x1="119.80" y1="252.00" x2="124.80" y2="252.00" stroke="#555" stroke-width="0.55"/>
<line x1="129.40" y1="230.80" x2="129.40" y2="241.30" stroke="#555" stroke-width="0.55"/>
<line x1="126.90" y1="230.80" x2="131.90" y2="230.80" stroke="#555" stroke-width="0.55"/>
<line x1="129.40" y1="241.30" x2="129.40" y2="248.30" stroke="#555" stroke-width="0.55"/>
<line x1="126.90" y1="248.30" x2="131.90" y2="248.30" stroke="#555" stroke-width="0.55"/>
<line x1="138.80" y1="226.40" x2="138.80" y2="236.90" stroke="#555" stroke-width="0.55"/>
<line x1="136.30" y1="226.40" x2="141.30" y2="226.40" stroke="#555" stroke-width="0.55"/>
<line x1="138.80" y1="236.90" x2="138.80" y2="243.90" stroke="#555" stroke-width="0.55"/>
<line x1="136.30" y1="243.90" x2="141.30" y2="243.90" stroke="#555" stroke-width="0.55"/>
<line x1="144.40" y1="223.90" x2="144.40" y2="234.40" stroke="#555" stroke-width="0.55"/>
<line x1="141.90" y1="223.90" x2="146.90" y2="223.90" stroke="#555" stroke-width="0.55"/>
<line x1="144.40" y1="234.40" x2="144.40" y2="241.40" stroke="#555" stroke-width="0.55"/>
<line x1="141.90" y1="241.40" x2="146.90" y2="241.40" stroke="#555" stroke-width="0.55"/>
<line x1="149.40" y1="223.90" x2="149.40" y2="234.40" stroke="#555" stroke-width="0.55"/>
<line x1="146.90" y1="223.90" x2="151.90" y2="223.90" stroke="#555" stroke-width="0.55"/>
<line x1="149.40" y1="234.40" x2="149.40" y2="241.40" stroke="#555" stroke-width="0.55"/>
<line x1="146.90" y1="241.40" x2="151.90" y2="241.40" stroke="#555" stroke-width="0.55"/>
<line x1="155.00" y1="229.00" x2="155.00" y2="241.00" stroke="#555" stroke-width="0.55"/>
<line x1="152.50" y1="229.00" x2="157.50" y2="229.00" stroke="#555" stroke-width="0.55"/>
<line x1="155.00" y1="241.00" x2="155.00" y2="248.00" stroke="#555" stroke-width="0.55"/>
<line x1="152.50" y1="248.00" x2="157.50" y2="248.00" stroke="#555" stroke-width="0.55"/>
<line x1="160.60" y1="233.60" x2="160.60" y2="245.60" stroke="#555" stroke-width="0.55"/>
<line x1="158.10" y1="233.60" x2="163.10" y2="233.60" stroke="#555" stroke-width="0.55"/>
<line x1="160.60" y1="245.60" x2="160.60" y2="252.60" stroke="#555" stroke-width="0.55"/>
<line x1="158.10" y1="252.60" x2="163.10" y2="252.60" stroke="#555" stroke-width="0.55"/>
<line x1="166.30" y1="227.40" x2="166.30" y2="239.40" stroke="#555" stroke-width="0.55"/>
<line x1="163.80" y1="227.40" x2="168.80" y2="227.40" stroke="#555" stroke-width="0.55"/>
<line x1="166.30" y1="239.40" x2="166.30" y2="246.40" stroke="#555" stroke-width="0.55"/>
<line x1="163.80" y1="246.40" x2="168.80" y2="246.40" stroke="#555" stroke-width="0.55"/>
<line x1="91.70" y1="268.60" x2="91.70" y2="274.60" stroke="#555" stroke-width="0.5"/>
<line x1="89.20" y1="268.60" x2="94.20" y2="268.60" stroke="#555" stroke-width="0.5"/>
<line x1="91.70" y1="274.60" x2="91.70" y2="281.60" stroke="#555" stroke-width="0.5"/>
<line x1="89.20" y1="281.60" x2="94.20" y2="281.60" stroke="#555" stroke-width="0.5"/>
<line x1="95.60" y1="264.60" x2="95.60" y2="270.60" stroke="#555" stroke-width="0.5"/>
<line x1="93.10" y1="264.60" x2="98.10" y2="264.60" stroke="#555" stroke-width="0.5"/>
<line x1="95.60" y1="270.60" x2="95.60" y2="277.60" stroke="#555" stroke-width="0.5"/>
<line x1="93.10" y1="277.60" x2="98.10" y2="277.60" stroke="#555" stroke-width="0.5"/>
<line x1="101.20" y1="265.20" x2="101.20" y2="271.20" stroke="#555" stroke-width="0.5"/>
<line x1="98.70" y1="265.20" x2="103.70" y2="265.20" stroke="#555" stroke-width="0.5"/>
<line x1="101.20" y1="271.20" x2="101.20" y2="278.20" stroke="#555" stroke-width="0.5"/>
<line x1="98.70" y1="278.20" x2="103.70" y2="278.20" stroke="#555" stroke-width="0.5"/>
<line x1="106.80" y1="263.40" x2="106.80" y2="269.40" stroke="#555" stroke-width="0.5"/>
<line x1="104.30" y1="263.40" x2="109.30" y2="263.40" stroke="#555" stroke-width="0.5"/>
<line x1="106.80" y1="269.40" x2="106.80" y2="276.40" stroke="#555" stroke-width="0.5"/>
<line x1="104.30" y1="276.40" x2="109.30" y2="276.40" stroke="#555" stroke-width="0.5"/>
<line x1="112.40" y1="259.10" x2="112.40" y2="265.10" stroke="#555" stroke-width="0.5"/>
<line x1="109.90" y1="259.10" x2="114.90" y2="259.10" stroke="#555" stroke-width="0.5"/>
<line x1="112.40" y1="265.10" x2="112.40" y2="272.10" stroke="#555" stroke-width="0.5"/>
<line x1="109.90" y1="272.10" x2="114.90" y2="272.10" stroke="#555" stroke-width="0.5"/>
<line x1="117.50" y1="255.30" x2="117.50" y2="261.30" stroke="#555" stroke-width="0.5"/>
<line x1="115.00" y1="255.30" x2="120.00" y2="255.30" stroke="#555" stroke-width="0.5"/>
<line x1="117.50" y1="261.30" x2="117.50" y2="268.30" stroke="#555" stroke-width="0.5"/>
<line x1="115.00" y1="268.30" x2="120.00" y2="268.30" stroke="#555" stroke-width="0.5"/>
<line x1="121.90" y1="259.00" x2="121.90" y2="265.00" stroke="#555" stroke-width="0.5"/>
<line x1="119.40" y1="259.00" x2="124.40" y2="259.00" stroke="#555" stroke-width="0.5"/>
<line x1="121.90" y1="265.00" x2="121.90" y2="272.00" stroke="#555" stroke-width="0.5"/>
<line x1="119.40" y1="272.00" x2="124.40" y2="272.00" stroke="#555" stroke-width="0.5"/>
<line x1="128.80" y1="259.00" x2="128.80" y2="265.00" stroke="#555" stroke-width="0.5"/>
<line x1="126.30" y1="259.00" x2="131.30" y2="259.00" stroke="#555" stroke-width="0.5"/>
<line x1="128.80" y1="265.00" x2="128.80" y2="272.00" stroke="#555" stroke-width="0.5"/>
<line x1="126.30" y1="272.00" x2="131.30" y2="272.00" stroke="#555" stroke-width="0.5"/>
<line x1="128.80" y1="263.40" x2="128.80" y2="269.40" stroke="#555" stroke-width="0.5"/>
<line x1="126.30" y1="263.40" x2="131.30" y2="263.40" stroke="#555" stroke-width="0.5"/>
<line x1="128.80" y1="269.40" x2="128.80" y2="276.40" stroke="#555" stroke-width="0.5"/>
<line x1="126.30" y1="276.40" x2="131.30" y2="276.40" stroke="#555" stroke-width="0.5"/>
<line x1="133.80" y1="254.60" x2="133.80" y2="260.60" stroke="#555" stroke-width="0.5"/>
<line x1="131.30" y1="254.60" x2="136.30" y2="254.60" stroke="#555" stroke-width="0.5"/>
<line x1="133.80" y1="260.60" x2="133.80" y2="267.60" stroke="#555" stroke-width="0.5"/>
<line x1="131.30" y1="267.60" x2="136.30" y2="267.60" stroke="#555" stroke-width="0.5"/>
<line x1="139.00" y1="257.10" x2="139.00" y2="263.10" stroke="#555" stroke-width="0.5"/>
<line x1="136.50" y1="257.10" x2="141.50" y2="257.10" stroke="#555" stroke-width="0.5"/>
<line x1="139.00" y1="263.10" x2="139.00" y2="270.10" stroke="#555" stroke-width="0.5"/>
<line x1="136.50" y1="270.10" x2="141.50" y2="270.10" stroke="#555" stroke-width="0.5"/>
<line x1="144.80" y1="254.00" x2="144.80" y2="260.00" stroke="#555" stroke-width="0.5"/>
<line x1="142.30" y1="254.00" x2="147.30" y2="254.00" stroke="#555" stroke-width="0.5"/>
<line x1="144.80" y1="260.00" x2="144.80" y2="267.00" stroke="#555" stroke-width="0.5"/>
<line x1="142.30" y1="267.00" x2="147.30" y2="267.00" stroke="#555" stroke-width="0.5"/>
<line x1="149.40" y1="257.80" x2="149.40" y2="263.80" stroke="#555" stroke-width="0.5"/>
<line x1="146.90" y1="257.80" x2="151.90" y2="257.80" stroke="#555" stroke-width="0.5"/>
<line x1="149.40" y1="263.80" x2="149.40" y2="270.80" stroke="#555" stroke-width="0.5"/>
<line x1="146.90" y1="270.80" x2="151.90" y2="270.80" stroke="#555" stroke-width="0.5"/>
<line x1="155.00" y1="260.30" x2="155.00" y2="266.30" stroke="#555" stroke-width="0.5"/>
<line x1="152.50" y1="260.30" x2="157.50" y2="260.30" stroke="#555" stroke-width="0.5"/>
<line x1="155.00" y1="266.30" x2="155.00" y2="273.30" stroke="#555" stroke-width="0.5"/>
<line x1="152.50" y1="273.30" x2="157.50" y2="273.30" stroke="#555" stroke-width="0.5"/>
<line x1="160.60" y1="262.10" x2="160.60" y2="268.10" stroke="#555" stroke-width="0.5"/>
<line x1="158.10" y1="262.10" x2="163.10" y2="262.10" stroke="#555" stroke-width="0.5"/>
<line x1="160.60" y1="268.10" x2="160.60" y2="275.10" stroke="#555" stroke-width="0.5"/>
<line x1="158.10" y1="275.10" x2="163.10" y2="275.10" stroke="#555" stroke-width="0.5"/>
<line x1="166.30" y1="253.40" x2="166.30" y2="259.40" stroke="#555" stroke-width="0.5"/>
<line x1="163.80" y1="253.40" x2="168.80" y2="253.40" stroke="#555" stroke-width="0.5"/>
<line x1="166.30" y1="259.40" x2="166.30" y2="266.40" stroke="#555" stroke-width="0.5"/>
<line x1="163.80" y1="266.40" x2="168.80" y2="266.40" stroke="#555" stroke-width="0.5"/>
<line x1="91.70" y1="260.20" x2="91.70" y2="265.20" stroke="#555" stroke-width="0.5"/>
<line x1="89.20" y1="260.20" x2="94.20" y2="260.20" stroke="#555" stroke-width="0.5"/>
<line x1="91.70" y1="265.20" x2="91.70" y2="270.20" stroke="#555" stroke-width="0.5"/>
<line x1="89.20" y1="270.20" x2="94.20" y2="270.20" stroke="#555" stroke-width="0.5"/>
<line x1="95.40" y1="255.80" x2="95.40" y2="260.80" stroke="#555" stroke-width="0.5"/>
<line x1="92.90" y1="255.80" x2="97.90" y2="255.80" stroke="#555" stroke-width="0.5"/>
<line x1="95.40" y1="260.80" x2="95.40" y2="265.80" stroke="#555" stroke-width="0.5"/>
<line x1="92.90" y1="265.80" x2="97.90" y2="265.80" stroke="#555" stroke-width="0.5"/>
<line x1="100.90" y1="253.70" x2="100.90" y2="258.70" stroke="#555" stroke-width="0.5"/>
<line x1="98.40" y1="253.70" x2="103.40" y2="253.70" stroke="#555" stroke-width="0.5"/>
<line x1="100.90" y1="258.70" x2="100.90" y2="263.70" stroke="#555" stroke-width="0.5"/>
<line x1="98.40" y1="263.70" x2="103.40" y2="263.70" stroke="#555" stroke-width="0.5"/>
<line x1="106.50" y1="253.40" x2="106.50" y2="258.40" stroke="#555" stroke-width="0.5"/>
<line x1="104.00" y1="253.40" x2="109.00" y2="253.40" stroke="#555" stroke-width="0.5"/>
<line x1="106.50" y1="258.40" x2="106.50" y2="263.40" stroke="#555" stroke-width="0.5"/>
<line x1="104.00" y1="263.40" x2="109.00" y2="263.40" stroke="#555" stroke-width="0.5"/>
<line x1="111.30" y1="250.00" x2="111.30" y2="255.00" stroke="#555" stroke-width="0.5"/>
<line x1="108.80" y1="250.00" x2="113.80" y2="250.00" stroke="#555" stroke-width="0.5"/>
<line x1="111.30" y1="255.00" x2="111.30" y2="260.00" stroke="#555" stroke-width="0.5"/>
<line x1="108.80" y1="260.00" x2="113.80" y2="260.00" stroke="#555" stroke-width="0.5"/>
<line x1="116.90" y1="250.00" x2="116.90" y2="255.00" stroke="#555" stroke-width="0.5"/>
<line x1="114.40" y1="250.00" x2="119.40" y2="250.00" stroke="#555" stroke-width="0.5"/>
<line x1="116.90" y1="255.00" x2="116.90" y2="260.00" stroke="#555" stroke-width="0.5"/>
<line x1="114.40" y1="260.00" x2="119.40" y2="260.00" stroke="#555" stroke-width="0.5"/>
<line x1="121.30" y1="247.80" x2="121.30" y2="252.80" stroke="#555" stroke-width="0.5"/>
<line x1="118.80" y1="247.80" x2="123.80" y2="247.80" stroke="#555" stroke-width="0.5"/>
<line x1="121.30" y1="252.80" x2="121.30" y2="257.80" stroke="#555" stroke-width="0.5"/>
<line x1="118.80" y1="257.80" x2="123.80" y2="257.80" stroke="#555" stroke-width="0.5"/>
<line x1="126.90" y1="249.40" x2="126.90" y2="254.40" stroke="#555" stroke-width="0.5"/>
<line x1="124.40" y1="249.40" x2="129.40" y2="249.40" stroke="#555" stroke-width="0.5"/>
<line x1="126.90" y1="254.40" x2="126.90" y2="259.40" stroke="#555" stroke-width="0.5"/>
<line x1="124.40" y1="259.40" x2="129.40" y2="259.40" stroke="#555" stroke-width="0.5"/>
<line x1="129.40" y1="249.00" x2="129.40" y2="254.00" stroke="#555" stroke-width="0.5"/>
<line x1="126.90" y1="249.00" x2="131.90" y2="249.00" stroke="#555" stroke-width="0.5"/>
<line x1="129.40" y1="254.00" x2="129.40" y2="259.00" stroke="#555" stroke-width="0.5"/>
<line x1="126.90" y1="259.00" x2="131.90" y2="259.00" stroke="#555" stroke-width="0.5"/>
<line x1="133.10" y1="249.40" x2="133.10" y2="254.40" stroke="#555" stroke-width="0.5"/>
<line x1="130.60" y1="249.40" x2="135.60" y2="249.40" stroke="#555" stroke-width="0.5"/>
<line x1="133.10" y1="254.40" x2="133.10" y2="259.40" stroke="#555" stroke-width="0.5"/>
<line x1="130.60" y1="259.40" x2="135.60" y2="259.40" stroke="#555" stroke-width="0.5"/>
<line x1="138.80" y1="246.90" x2="138.80" y2="251.90" stroke="#555" stroke-width="0.5"/>
<line x1="136.30" y1="246.90" x2="141.30" y2="246.90" stroke="#555" stroke-width="0.5"/>
<line x1="138.80" y1="251.90" x2="138.80" y2="256.90" stroke="#555" stroke-width="0.5"/>
<line x1="136.30" y1="256.90" x2="141.30" y2="256.90" stroke="#555" stroke-width="0.5"/>
<line x1="144.40" y1="244.80" x2="144.40" y2="249.80" stroke="#555" stroke-width="0.5"/>
<line x1="141.90" y1="244.80" x2="146.90" y2="244.80" stroke="#555" stroke-width="0.5"/>
<line x1="144.40" y1="249.80" x2="144.40" y2="254.80" stroke="#555" stroke-width="0.5"/>
<line x1="141.90" y1="254.80" x2="146.90" y2="254.80" stroke="#555" stroke-width="0.5"/>
<line x1="149.40" y1="245.60" x2="149.40" y2="250.60" stroke="#555" stroke-width="0.5"/>
<line x1="146.90" y1="245.60" x2="151.90" y2="245.60" stroke="#555" stroke-width="0.5"/>
<line x1="149.40" y1="250.60" x2="149.40" y2="255.60" stroke="#555" stroke-width="0.5"/>
<line x1="146.90" y1="255.60" x2="151.90" y2="255.60" stroke="#555" stroke-width="0.5"/>
<line x1="155.00" y1="248.10" x2="155.00" y2="253.10" stroke="#555" stroke-width="0.5"/>
<line x1="152.50" y1="248.10" x2="157.50" y2="248.10" stroke="#555" stroke-width="0.5"/>
<line x1="155.00" y1="253.10" x2="155.00" y2="258.10" stroke="#555" stroke-width="0.5"/>
<line x1="152.50" y1="258.10" x2="157.50" y2="258.10" stroke="#555" stroke-width="0.5"/>
<line x1="160.00" y1="246.30" x2="160.00" y2="251.30" stroke="#555" stroke-width="0.5"/>
<line x1="157.50" y1="246.30" x2="162.50" y2="246.30" stroke="#555" stroke-width="0.5"/>
<line x1="160.00" y1="251.30" x2="160.00" y2="256.30" stroke="#555" stroke-width="0.5"/>
<line x1="157.50" y1="256.30" x2="162.50" y2="256.30" stroke="#555" stroke-width="0.5"/>
<line x1="166.00" y1="245.00" x2="166.00" y2="250.00" stroke="#555" stroke-width="0.5"/>
<line x1="163.50" y1="245.00" x2="168.50" y2="245.00" stroke="#555" stroke-width="0.5"/>
<line x1="166.00" y1="250.00" x2="166.00" y2="255.00" stroke="#555" stroke-width="0.5"/>
<line x1="163.50" y1="255.00" x2="168.50" y2="255.00" stroke="#555" stroke-width="0.5"/>
<line x1="128.10" y1="285.80" x2="128.10" y2="288.80" stroke="#555" stroke-width="0.5"/>
<line x1="125.60" y1="285.80" x2="130.60" y2="285.80" stroke="#555" stroke-width="0.5"/>
<line x1="128.10" y1="288.80" x2="128.10" y2="291.80" stroke="#555" stroke-width="0.5"/>
<line x1="125.60" y1="291.80" x2="130.60" y2="291.80" stroke="#555" stroke-width="0.5"/>
<line x1="128.10" y1="289.50" x2="128.10" y2="292.50" stroke="#555" stroke-width="0.5"/>
<line x1="125.60" y1="289.50" x2="130.60" y2="289.50" stroke="#555" stroke-width="0.5"/>
<line x1="128.10" y1="292.50" x2="128.10" y2="295.50" stroke="#555" stroke-width="0.5"/>
<line x1="125.60" y1="295.50" x2="130.60" y2="295.50" stroke="#555" stroke-width="0.5"/>
<line x1="133.80" y1="287.30" x2="133.80" y2="290.30" stroke="#555" stroke-width="0.5"/>
<line x1="131.30" y1="287.30" x2="136.30" y2="287.30" stroke="#555" stroke-width="0.5"/>
<line x1="133.80" y1="290.30" x2="133.80" y2="293.30" stroke="#555" stroke-width="0.5"/>
<line x1="131.30" y1="293.30" x2="136.30" y2="293.30" stroke="#555" stroke-width="0.5"/>
<line x1="139.00" y1="281.40" x2="139.00" y2="284.40" stroke="#555" stroke-width="0.5"/>
<line x1="136.50" y1="281.40" x2="141.50" y2="281.40" stroke="#555" stroke-width="0.5"/>
<line x1="139.00" y1="284.40" x2="139.00" y2="287.40" stroke="#555" stroke-width="0.5"/>
<line x1="136.50" y1="287.40" x2="141.50" y2="287.40" stroke="#555" stroke-width="0.5"/>
<line x1="144.40" y1="285.10" x2="144.40" y2="288.10" stroke="#555" stroke-width="0.5"/>
<line x1="141.90" y1="285.10" x2="146.90" y2="285.10" stroke="#555" stroke-width="0.5"/>
<line x1="144.40" y1="288.10" x2="144.40" y2="291.10" stroke="#555" stroke-width="0.5"/>
<line x1="141.90" y1="291.10" x2="146.90" y2="291.10" stroke="#555" stroke-width="0.5"/>
<line x1="149.40" y1="282.60" x2="149.40" y2="285.60" stroke="#555" stroke-width="0.5"/>
<line x1="146.90" y1="282.60" x2="151.90" y2="282.60" stroke="#555" stroke-width="0.5"/>
<line x1="149.40" y1="285.60" x2="149.40" y2="288.60" stroke="#555" stroke-width="0.5"/>
<line x1="146.90" y1="288.60" x2="151.90" y2="288.60" stroke="#555" stroke-width="0.5"/>
<line x1="155.00" y1="286.40" x2="155.00" y2="289.40" stroke="#555" stroke-width="0.5"/>
<line x1="152.50" y1="286.40" x2="157.50" y2="286.40" stroke="#555" stroke-width="0.5"/>
<line x1="155.00" y1="289.40" x2="155.00" y2="292.40" stroke="#555" stroke-width="0.5"/>
<line x1="152.50" y1="292.40" x2="157.50" y2="292.40" stroke="#555" stroke-width="0.5"/>
<line x1="160.60" y1="287.60" x2="160.60" y2="290.60" stroke="#555" stroke-width="0.5"/>
<line x1="158.10" y1="287.60" x2="163.10" y2="287.60" stroke="#555" stroke-width="0.5"/>
<line x1="160.60" y1="290.60" x2="160.60" y2="293.60" stroke="#555" stroke-width="0.5"/>
<line x1="158.10" y1="293.60" x2="163.10" y2="293.60" stroke="#555" stroke-width="0.5"/>
<line x1="166.30" y1="288.00" x2="166.30" y2="291.00" stroke="#555" stroke-width="0.5"/>
<line x1="163.80" y1="288.00" x2="168.80" y2="288.00" stroke="#555" stroke-width="0.5"/>
<line x1="166.30" y1="291.00" x2="166.30" y2="294.00" stroke="#555" stroke-width="0.5"/>
<line x1="163.80" y1="294.00" x2="168.80" y2="294.00" stroke="#555" stroke-width="0.5"/>
<circle cx="64.60" cy="254.00" r="2.8" fill="#fff" stroke="#4a1670" stroke-width="1.7"/>
<circle cx="69.40" cy="255.00" r="2.8" fill="#fff" stroke="#4a1670" stroke-width="1.7"/>
<circle cx="55.00" cy="299.90" r="3.65" fill="#2f5597" stroke="#1a1a1a" stroke-width="0.7"/>
<circle cx="64.80" cy="258.00" r="3.65" fill="#2f5597" stroke="#1a1a1a" stroke-width="0.7"/>
<circle cx="68.80" cy="273.00" r="3.65" fill="#2f5597" stroke="#1a1a1a" stroke-width="0.7"/>
<circle cx="74.20" cy="290.00" r="3.65" fill="#2f5597" stroke="#1a1a1a" stroke-width="0.7"/>
<circle cx="79.80" cy="287.90" r="3.65" fill="#2f5597" stroke="#1a1a1a" stroke-width="0.7"/>
<circle cx="85.00" cy="289.60" r="3.65" fill="#2f5597" stroke="#1a1a1a" stroke-width="0.7"/>
<circle cx="91.70" cy="287.50" r="3.65" fill="#2f5597" stroke="#1a1a1a" stroke-width="0.7"/>
<circle cx="96.00" cy="287.30" r="3.65" fill="#2f5597" stroke="#1a1a1a" stroke-width="0.7"/>
<circle cx="101.20" cy="290.80" r="3.65" fill="#2f5597" stroke="#1a1a1a" stroke-width="0.7"/>
<circle cx="106.80" cy="292.50" r="3.65" fill="#2f5597" stroke="#1a1a1a" stroke-width="0.7"/>
<circle cx="128.10" cy="288.80" r="3.65" fill="#2f5597" stroke="#1a1a1a" stroke-width="0.7"/>
<circle cx="128.10" cy="292.50" r="3.65" fill="#2f5597" stroke="#1a1a1a" stroke-width="0.7"/>
<circle cx="133.80" cy="290.30" r="3.65" fill="#2f5597" stroke="#1a1a1a" stroke-width="0.7"/>
<circle cx="139.00" cy="284.40" r="3.65" fill="#2f5597" stroke="#1a1a1a" stroke-width="0.7"/>
<circle cx="144.40" cy="288.10" r="3.65" fill="#2f5597" stroke="#1a1a1a" stroke-width="0.7"/>
<circle cx="149.40" cy="285.60" r="3.65" fill="#2f5597" stroke="#1a1a1a" stroke-width="0.7"/>
<circle cx="155.00" cy="289.40" r="3.65" fill="#2f5597" stroke="#1a1a1a" stroke-width="0.7"/>
<circle cx="160.60" cy="290.60" r="3.65" fill="#2f5597" stroke="#1a1a1a" stroke-width="0.7"/>
<circle cx="166.30" cy="291.00" r="3.65" fill="#2f5597" stroke="#1a1a1a" stroke-width="0.7"/>
<circle cx="55.00" cy="299.90" r="3.65" fill="#5b2b74" stroke="#1a1a1a" stroke-width="0.7"/>
<circle cx="64.50" cy="253.60" r="3.65" fill="#5b2b74" stroke="#1a1a1a" stroke-width="0.7"/>
<circle cx="69.40" cy="254.60" r="3.65" fill="#5b2b74" stroke="#1a1a1a" stroke-width="0.7"/>
<circle cx="74.20" cy="282.00" r="3.65" fill="#5b2b74" stroke="#1a1a1a" stroke-width="0.7"/>
<circle cx="79.80" cy="292.50" r="3.65" fill="#5b2b74" stroke="#1a1a1a" stroke-width="0.7"/>
<circle cx="85.20" cy="283.30" r="3.65" fill="#5b2b74" stroke="#1a1a1a" stroke-width="0.7"/>
<circle cx="91.70" cy="274.60" r="3.65" fill="#5b2b74" stroke="#1a1a1a" stroke-width="0.7"/>
<circle cx="95.60" cy="270.60" r="3.65" fill="#5b2b74" stroke="#1a1a1a" stroke-width="0.7"/>
<circle cx="101.20" cy="271.20" r="3.65" fill="#5b2b74" stroke="#1a1a1a" stroke-width="0.7"/>
<circle cx="106.80" cy="269.40" r="3.65" fill="#5b2b74" stroke="#1a1a1a" stroke-width="0.7"/>
<circle cx="112.40" cy="265.10" r="3.65" fill="#5b2b74" stroke="#1a1a1a" stroke-width="0.7"/>
<circle cx="117.50" cy="261.30" r="3.65" fill="#5b2b74" stroke="#1a1a1a" stroke-width="0.7"/>
<circle cx="121.90" cy="265.00" r="3.65" fill="#5b2b74" stroke="#1a1a1a" stroke-width="0.7"/>
<circle cx="128.80" cy="265.00" r="3.65" fill="#5b2b74" stroke="#1a1a1a" stroke-width="0.7"/>
<circle cx="128.80" cy="269.40" r="3.65" fill="#5b2b74" stroke="#1a1a1a" stroke-width="0.7"/>
<circle cx="133.80" cy="260.60" r="3.65" fill="#5b2b74" stroke="#1a1a1a" stroke-width="0.7"/>
<circle cx="139.00" cy="263.10" r="3.65" fill="#5b2b74" stroke="#1a1a1a" stroke-width="0.7"/>
<circle cx="144.80" cy="260.00" r="3.65" fill="#5b2b74" stroke="#1a1a1a" stroke-width="0.7"/>
<circle cx="149.40" cy="263.80" r="3.65" fill="#5b2b74" stroke="#1a1a1a" stroke-width="0.7"/>
<circle cx="155.00" cy="266.30" r="3.65" fill="#5b2b74" stroke="#1a1a1a" stroke-width="0.7"/>
<circle cx="160.60" cy="268.10" r="3.65" fill="#5b2b74" stroke="#1a1a1a" stroke-width="0.7"/>
<circle cx="166.30" cy="259.40" r="3.65" fill="#5b2b74" stroke="#1a1a1a" stroke-width="0.7"/>
<circle cx="74.10" cy="280.50" r="2.8" fill="#fff" stroke="#4a1670" stroke-width="1.7"/>
<circle cx="79.80" cy="281.00" r="2.8" fill="#fff" stroke="#4a1670" stroke-width="1.7"/>
<circle cx="85.00" cy="278.40" r="2.8" fill="#fff" stroke="#4a1670" stroke-width="1.7"/>
<circle cx="90.80" cy="259.00" r="2.8" fill="#fff" stroke="#4a1670" stroke-width="1.7"/>
<circle cx="95.40" cy="255.90" r="2.8" fill="#fff" stroke="#4a1670" stroke-width="1.7"/>
<circle cx="101.20" cy="252.10" r="2.8" fill="#fff" stroke="#4a1670" stroke-width="1.7"/>
<circle cx="106.60" cy="248.20" r="2.8" fill="#fff" stroke="#4a1670" stroke-width="1.7"/>
<circle cx="112.30" cy="247.60" r="2.8" fill="#fff" stroke="#4a1670" stroke-width="1.7"/>
<circle cx="117.50" cy="246.30" r="2.8" fill="#fff" stroke="#4a1670" stroke-width="1.7"/>
<circle cx="122.30" cy="245.00" r="2.8" fill="#fff" stroke="#4a1670" stroke-width="1.7"/>
<circle cx="129.40" cy="241.30" r="2.8" fill="#fff" stroke="#4a1670" stroke-width="1.7"/>
<circle cx="138.80" cy="236.90" r="2.8" fill="#fff" stroke="#4a1670" stroke-width="1.7"/>
<circle cx="144.40" cy="234.40" r="2.8" fill="#fff" stroke="#4a1670" stroke-width="1.7"/>
<circle cx="149.40" cy="234.40" r="2.8" fill="#fff" stroke="#4a1670" stroke-width="1.7"/>
<circle cx="155.00" cy="241.00" r="2.8" fill="#fff" stroke="#4a1670" stroke-width="1.7"/>
<circle cx="160.60" cy="245.60" r="2.8" fill="#fff" stroke="#4a1670" stroke-width="1.7"/>
<circle cx="166.30" cy="239.40" r="2.8" fill="#fff" stroke="#4a1670" stroke-width="1.7"/>
<circle cx="55.00" cy="299.90" r="3.65" fill="#c1002d" stroke="#1a1a1a" stroke-width="0.7"/>
<circle cx="64.80" cy="257.10" r="3.65" fill="#c1002d" stroke="#1a1a1a" stroke-width="0.7"/>
<circle cx="69.40" cy="263.50" r="3.65" fill="#c1002d" stroke="#1a1a1a" stroke-width="0.7"/>
<circle cx="74.00" cy="285.00" r="3.65" fill="#c1002d" stroke="#1a1a1a" stroke-width="0.7"/>
<circle cx="79.80" cy="282.40" r="3.65" fill="#c1002d" stroke="#1a1a1a" stroke-width="0.7"/>
<circle cx="85.00" cy="274.40" r="3.65" fill="#c1002d" stroke="#1a1a1a" stroke-width="0.7"/>
<circle cx="91.70" cy="265.20" r="3.65" fill="#c1002d" stroke="#1a1a1a" stroke-width="0.7"/>
<circle cx="95.40" cy="260.80" r="3.65" fill="#c1002d" stroke="#1a1a1a" stroke-width="0.7"/>
<circle cx="100.90" cy="258.70" r="3.65" fill="#c1002d" stroke="#1a1a1a" stroke-width="0.7"/>
<circle cx="106.50" cy="258.40" r="3.65" fill="#c1002d" stroke="#1a1a1a" stroke-width="0.7"/>
<circle cx="111.30" cy="255.00" r="3.65" fill="#c1002d" stroke="#1a1a1a" stroke-width="0.7"/>
<circle cx="116.90" cy="255.00" r="3.65" fill="#c1002d" stroke="#1a1a1a" stroke-width="0.7"/>
<circle cx="121.30" cy="252.80" r="3.65" fill="#c1002d" stroke="#1a1a1a" stroke-width="0.7"/>
<circle cx="126.90" cy="254.40" r="3.65" fill="#c1002d" stroke="#1a1a1a" stroke-width="0.7"/>
<circle cx="129.40" cy="254.00" r="3.65" fill="#c1002d" stroke="#1a1a1a" stroke-width="0.7"/>
<circle cx="133.10" cy="254.40" r="3.65" fill="#c1002d" stroke="#1a1a1a" stroke-width="0.7"/>
<circle cx="138.80" cy="251.90" r="3.65" fill="#c1002d" stroke="#1a1a1a" stroke-width="0.7"/>
<circle cx="144.40" cy="249.80" r="3.65" fill="#c1002d" stroke="#1a1a1a" stroke-width="0.7"/>
<circle cx="149.40" cy="250.60" r="3.65" fill="#c1002d" stroke="#1a1a1a" stroke-width="0.7"/>
<circle cx="155.00" cy="253.10" r="3.65" fill="#c1002d" stroke="#1a1a1a" stroke-width="0.7"/>
<circle cx="160.00" cy="251.30" r="3.65" fill="#c1002d" stroke="#1a1a1a" stroke-width="0.7"/>
<circle cx="166.00" cy="250.00" r="3.65" fill="#c1002d" stroke="#1a1a1a" stroke-width="0.7"/>
<circle cx="55.00" cy="299.90" r="3.65" fill="#6ab343" stroke="#1a1a1a" stroke-width="0.7"/>
<circle cx="64.80" cy="266.30" r="3.65" fill="#6ab343" stroke="#1a1a1a" stroke-width="0.7"/>
<circle cx="68.80" cy="293.10" r="3.65" fill="#6ab343" stroke="#1a1a1a" stroke-width="0.7"/>
<circle cx="74.00" cy="298.80" r="3.65" fill="#6ab343" stroke="#1a1a1a" stroke-width="0.7"/>
<circle cx="79.50" cy="297.70" r="3.65" fill="#6ab343" stroke="#1a1a1a" stroke-width="0.7"/>
<circle cx="84.80" cy="295.60" r="3.65" fill="#6ab343" stroke="#1a1a1a" stroke-width="0.7"/>
<circle cx="91.00" cy="296.00" r="3.65" fill="#6ab343" stroke="#1a1a1a" stroke-width="0.7"/>
<circle cx="96.00" cy="296.00" r="3.65" fill="#6ab343" stroke="#1a1a1a" stroke-width="0.7"/>
<circle cx="101.20" cy="296.30" r="3.65" fill="#6ab343" stroke="#1a1a1a" stroke-width="0.7"/>
<circle cx="106.30" cy="298.80" r="3.65" fill="#6ab343" stroke="#1a1a1a" stroke-width="0.7"/>
<circle cx="111.80" cy="296.50" r="3.65" fill="#6ab343" stroke="#1a1a1a" stroke-width="0.7"/>
<circle cx="116.90" cy="296.30" r="3.65" fill="#6ab343" stroke="#1a1a1a" stroke-width="0.7"/>
<circle cx="121.90" cy="298.80" r="3.65" fill="#6ab343" stroke="#1a1a1a" stroke-width="0.7"/>
<circle cx="128.80" cy="299.40" r="3.65" fill="#6ab343" stroke="#1a1a1a" stroke-width="0.7"/>
<circle cx="133.80" cy="298.10" r="3.65" fill="#6ab343" stroke="#1a1a1a" stroke-width="0.7"/>
<circle cx="138.80" cy="296.90" r="3.65" fill="#6ab343" stroke="#1a1a1a" stroke-width="0.7"/>
<circle cx="144.40" cy="297.50" r="3.65" fill="#6ab343" stroke="#1a1a1a" stroke-width="0.7"/>
<circle cx="149.40" cy="296.00" r="3.65" fill="#6ab343" stroke="#1a1a1a" stroke-width="0.7"/>
<circle cx="155.00" cy="295.60" r="3.65" fill="#6ab343" stroke="#1a1a1a" stroke-width="0.7"/>
<circle cx="160.00" cy="297.30" r="3.65" fill="#6ab343" stroke="#1a1a1a" stroke-width="0.7"/>
<circle cx="166.30" cy="297.30" r="3.65" fill="#6ab343" stroke="#1a1a1a" stroke-width="0.7"/>
<circle cx="180.20" cy="257.30" r="3.45" fill="#6ab343" stroke="#1a1a1a" stroke-width="0.65"/>
<text x="187.30" y="259.60" font-size="7.6" textLength="26.50" lengthAdjust="spacingAndGlyphs">TCD BM</text>
<circle cx="180.20" cy="267.60" r="3.45" fill="#c1002d" stroke="#1a1a1a" stroke-width="0.65"/>
<text x="187.30" y="269.90" font-size="7.6" textLength="88.90" lengthAdjust="spacingAndGlyphs">TCD BM + T cells + isotype</text>
<circle cx="180.20" cy="277.90" r="3.45" fill="#2f5597" stroke="#1a1a1a" stroke-width="0.65"/>
<text x="187.30" y="280.20" font-size="7.6" textLength="135.90" lengthAdjust="spacingAndGlyphs">TCD BM + T cells + anti-Dll1/4 (day 0-10)</text>
<circle cx="180.20" cy="288.20" r="2.9" fill="#fff" stroke="#4a1670" stroke-width="1.9"/>
<text x="187.30" y="290.50" font-size="7.6" textLength="140.50" lengthAdjust="spacingAndGlyphs">TCD BM + T cells + anti-Dll1/4 (day 10-20)</text>
<circle cx="180.20" cy="298.50" r="3.45" fill="#5b2b74" stroke="#1a1a1a" stroke-width="0.65"/>
<text x="187.30" y="300.80" font-size="7.6" textLength="140.50" lengthAdjust="spacingAndGlyphs">TCD BM + T cells + anti-Dll1/4 (day 40-50)</text>
<line x1="53.40" y1="377.70" x2="53.40" y2="454.30" stroke="#000" stroke-width="1.1"/>
<line x1="50.20" y1="453.80" x2="53.40" y2="453.80" stroke="#000" stroke-width="1.1"/>
<text x="46.60" y="456.90" font-size="8.6" text-anchor="end">0</text>
<line x1="50.20" y1="436.85" x2="53.40" y2="436.85" stroke="#000" stroke-width="1.1"/>
<text x="46.60" y="439.95" font-size="8.6" text-anchor="end">20</text>
<line x1="50.20" y1="419.90" x2="53.40" y2="419.90" stroke="#000" stroke-width="1.1"/>
<text x="46.60" y="423.00" font-size="8.6" text-anchor="end">40</text>
<line x1="50.20" y1="402.95" x2="53.40" y2="402.95" stroke="#000" stroke-width="1.1"/>
<text x="46.60" y="406.05" font-size="8.6" text-anchor="end">60</text>
<line x1="50.20" y1="386.00" x2="53.40" y2="386.00" stroke="#000" stroke-width="1.1"/>
<text x="46.60" y="389.10" font-size="8.6" text-anchor="end">80</text>
<line x1="53.40" y1="453.80" x2="121.90" y2="453.80" stroke="#000" stroke-width="1.1"/>
<line x1="64.00" y1="426.60" x2="64.00" y2="430.70" stroke="#000" stroke-width="0.9"/>
<line x1="61.40" y1="426.60" x2="66.60" y2="426.60" stroke="#000" stroke-width="0.9"/>
<rect x="59.20" y="430.00" width="9.60" height="23.60" fill="#6ab343" stroke="#4f8a30" stroke-width="0.6"/>
<line x1="80.20" y1="405.60" x2="80.20" y2="410.10" stroke="#000" stroke-width="0.9"/>
<line x1="77.60" y1="405.60" x2="82.80" y2="405.60" stroke="#000" stroke-width="0.9"/>
<rect x="75.20" y="409.40" width="10.00" height="44.20" fill="#c1002d" stroke="#8e0020" stroke-width="0.6"/>
<line x1="95.85" y1="419.70" x2="95.85" y2="424.00" stroke="#000" stroke-width="0.9"/>
<line x1="93.25" y1="419.70" x2="98.45" y2="419.70" stroke="#000" stroke-width="0.9"/>
<rect x="91.00" y="423.30" width="9.70" height="30.30" fill="#2f5597" stroke="#1f3d73" stroke-width="0.6"/>
<line x1="111.60" y1="414.70" x2="111.60" y2="418.50" stroke="#000" stroke-width="0.9"/>
<line x1="109.00" y1="414.70" x2="114.20" y2="414.70" stroke="#000" stroke-width="0.9"/>
<rect x="106.60" y="417.80" width="10.00" height="35.80" fill="#5b2b74" stroke="#3f1d52" stroke-width="0.6"/>
<line x1="64.20" y1="376.80" x2="110.80" y2="376.80" stroke="#333" stroke-width="1.3"/>
<circle cx="87.30" cy="372.50" r="1.05" fill="#333"/>
<line x1="64.30" y1="389.70" x2="95.90" y2="389.70" stroke="#333" stroke-width="1.3"/>
<circle cx="80.00" cy="384.90" r="1.05" fill="#333"/>
<line x1="64.30" y1="401.40" x2="78.50" y2="401.40" stroke="#333" stroke-width="1.3"/>
<circle cx="71.30" cy="397.30" r="1.05" fill="#333"/>
<line x1="81.10" y1="401.40" x2="95.10" y2="401.40" stroke="#333" stroke-width="1.3"/>
<circle cx="88.10" cy="397.30" r="1.05" fill="#333"/>
<text x="78.40" y="364.90" font-size="10.8" textLength="18.80" lengthAdjust="spacingAndGlyphs">Skin</text>
<text x="30.60" y="462.90" font-size="10.4" textLength="93.90" lengthAdjust="spacingAndGlyphs" transform="rotate(-90 30.60 462.90)">Dermal thickness/µm</text>
<rect x="124.3" y="411.0" width="7.7" height="7.3" fill="#6ab343"/>
<text x="135.40" y="417.10" font-size="7.6" textLength="26.60" lengthAdjust="spacingAndGlyphs">TCD BM</text>
<rect x="124.3" y="422.9" width="7.7" height="7.3" fill="#c1002d"/>
<text x="135.40" y="429.00" font-size="7.6" textLength="88.90" lengthAdjust="spacingAndGlyphs">TCD BM + T cells + isotype</text>
<rect x="124.3" y="434.8" width="7.7" height="7.3" fill="#2f5597"/>
<text x="135.40" y="440.90" font-size="7.6" textLength="136.10" lengthAdjust="spacingAndGlyphs">TCD BM + T cells + anti-Dll1/4 (day 0-10)</text>
<rect x="124.3" y="446.7" width="7.7" height="7.3" fill="#5b2b74"/>
<text x="135.40" y="452.80" font-size="7.6" textLength="140.30" lengthAdjust="spacingAndGlyphs">TCD BM + T cells + anti-Dll1/4 (day 40-50)</text>
<line x1="53.40" y1="485.90" x2="53.40" y2="604.40" stroke="#000" stroke-width="1.1"/>
<line x1="50.20" y1="602.00" x2="53.40" y2="602.00" stroke="#000" stroke-width="1.1"/>
<text x="46.60" y="605.10" font-size="8.6" text-anchor="end">0</text>
<line x1="50.20" y1="579.50" x2="53.40" y2="579.50" stroke="#000" stroke-width="1.1"/>
<text x="46.60" y="582.60" font-size="8.6" text-anchor="end">2</text>
<line x1="50.20" y1="557.00" x2="53.40" y2="557.00" stroke="#000" stroke-width="1.1"/>
<text x="46.60" y="560.10" font-size="8.6" text-anchor="end">4</text>
<line x1="50.20" y1="534.50" x2="53.40" y2="534.50" stroke="#000" stroke-width="1.1"/>
<text x="46.60" y="537.60" font-size="8.6" text-anchor="end">6</text>
<line x1="50.20" y1="512.00" x2="53.40" y2="512.00" stroke="#000" stroke-width="1.1"/>
<text x="46.60" y="515.10" font-size="8.6" text-anchor="end">8</text>
<line x1="50.20" y1="489.50" x2="53.40" y2="489.50" stroke="#000" stroke-width="1.1"/>
<text x="46.60" y="492.60" font-size="8.6" text-anchor="end">10</text>
<line x1="53.40" y1="604.40" x2="169.90" y2="604.40" stroke="#000" stroke-width="1.5"/>
<line x1="55.20" y1="604.40" x2="55.20" y2="607.40" stroke="#000" stroke-width="1.5"/>
<text x="55.20" y="618.20" font-size="8.6" text-anchor="middle">0</text>
<line x1="73.60" y1="604.40" x2="73.60" y2="607.40" stroke="#000" stroke-width="1.5"/>
<text x="73.60" y="618.20" font-size="8.6" text-anchor="middle">10</text>
<line x1="92.00" y1="604.40" x2="92.00" y2="607.40" stroke="#000" stroke-width="1.5"/>
<text x="92.00" y="618.20" font-size="8.6" text-anchor="middle">20</text>
<line x1="110.40" y1="604.40" x2="110.40" y2="607.40" stroke="#000" stroke-width="1.5"/>
<text x="110.40" y="618.20" font-size="8.6" text-anchor="middle">30</text>
<line x1="128.80" y1="604.40" x2="128.80" y2="607.40" stroke="#000" stroke-width="1.5"/>
<text x="128.80" y="618.20" font-size="8.6" text-anchor="middle">40</text>
<line x1="147.20" y1="604.40" x2="147.20" y2="607.40" stroke="#000" stroke-width="1.5"/>
<text x="147.20" y="618.20" font-size="8.6" text-anchor="middle">50</text>
<line x1="165.60" y1="604.40" x2="165.60" y2="607.40" stroke="#000" stroke-width="1.5"/>
<text x="165.60" y="618.20" font-size="8.6" text-anchor="middle">60</text>
<line x1="60" y1="602.3" x2="100" y2="602.3" stroke="#aaa" stroke-width="0.8" stroke-dasharray="0.7 0.7"/>
<text x="69.60" y="632.70" font-size="10.4" textLength="84.00" lengthAdjust="spacingAndGlyphs">Days after allo-HCT</text>
<text x="31.30" y="591.30" font-size="10.4" textLength="92.90" lengthAdjust="spacingAndGlyphs" transform="rotate(-90 31.30 591.30)">Systemic GVHD score</text>
<line x1="91.1" y1="520.3" x2="168.8" y2="520.3" stroke="#333" stroke-width="1.2"/>
<circle cx="130.10" cy="516.30" r="1.05" fill="#333"/>
<polyline points="55.20,601.90 66.24,565.90 73.60,592.40 80.96,601.20 88.32,598.30 95.68,598.30 103.04,597.70 110.40,598.60 117.76,598.60 125.12,600.80 132.48,598.90 139.84,597.10 147.20,600.40 156.40,600.10 165.60,601.60" fill="none" stroke="#6ab343" stroke-width="0.7"/>
<polyline points="55.20,602.20 66.24,551.00 73.60,575.50 80.96,589.50 88.32,589.50 95.68,587.80 103.04,587.00 110.40,583.90 117.76,584.60 125.12,585.60 132.48,588.60 139.84,586.80 147.20,586.10 156.40,579.10 165.60,583.40" fill="none" stroke="#2f5597" stroke-width="0.7"/>
<polyline points="55.20,602.20 66.24,541.40 73.60,559.80 80.96,580.20 88.32,570.80 95.68,557.40 103.04,555.90 110.40,546.20 117.76,548.70 125.12,550.60 132.48,548.10 139.84,547.70 147.20,545.50 156.40,542.80 165.60,544.30" fill="none" stroke="#5b2b74" stroke-width="0.7"/>
<polyline points="55.20,602.20 66.24,548.40 73.60,569.10 80.96,586.00 88.32,567.10 95.68,551.60 103.04,548.10 110.40,541.30 117.76,543.70 125.12,544.70 132.48,542.80 139.84,544.70 147.20,543.70 156.40,541.50 165.60,545.50" fill="none" stroke="#c1002d" stroke-width="0.7"/>
<line x1="88.32" y1="557.60" x2="88.32" y2="567.10" stroke="#444" stroke-width="0.5"/>
<line x1="85.82" y1="557.60" x2="90.82" y2="557.60" stroke="#444" stroke-width="0.5"/>
<line x1="88.32" y1="567.10" x2="88.32" y2="576.60" stroke="#444" stroke-width="0.5"/>
<line x1="85.82" y1="576.60" x2="90.82" y2="576.60" stroke="#444" stroke-width="0.5"/>
<line x1="95.68" y1="542.10" x2="95.68" y2="551.60" stroke="#444" stroke-width="0.5"/>
<line x1="93.18" y1="542.10" x2="98.18" y2="542.10" stroke="#444" stroke-width="0.5"/>
<line x1="95.68" y1="551.60" x2="95.68" y2="561.10" stroke="#444" stroke-width="0.5"/>
<line x1="93.18" y1="561.10" x2="98.18" y2="561.10" stroke="#444" stroke-width="0.5"/>
<line x1="103.04" y1="538.60" x2="103.04" y2="548.10" stroke="#444" stroke-width="0.5"/>
<line x1="100.54" y1="538.60" x2="105.54" y2="538.60" stroke="#444" stroke-width="0.5"/>
<line x1="103.04" y1="548.10" x2="103.04" y2="557.60" stroke="#444" stroke-width="0.5"/>
<line x1="100.54" y1="557.60" x2="105.54" y2="557.60" stroke="#444" stroke-width="0.5"/>
<line x1="110.40" y1="531.80" x2="110.40" y2="541.30" stroke="#444" stroke-width="0.5"/>
<line x1="107.90" y1="531.80" x2="112.90" y2="531.80" stroke="#444" stroke-width="0.5"/>
<line x1="110.40" y1="541.30" x2="110.40" y2="550.80" stroke="#444" stroke-width="0.5"/>
<line x1="107.90" y1="550.80" x2="112.90" y2="550.80" stroke="#444" stroke-width="0.5"/>
<line x1="117.76" y1="534.20" x2="117.76" y2="543.70" stroke="#444" stroke-width="0.5"/>
<line x1="115.26" y1="534.20" x2="120.26" y2="534.20" stroke="#444" stroke-width="0.5"/>
<line x1="117.76" y1="543.70" x2="117.76" y2="553.20" stroke="#444" stroke-width="0.5"/>
<line x1="115.26" y1="553.20" x2="120.26" y2="553.20" stroke="#444" stroke-width="0.5"/>
<line x1="125.12" y1="535.20" x2="125.12" y2="544.70" stroke="#444" stroke-width="0.5"/>
<line x1="122.62" y1="535.20" x2="127.62" y2="535.20" stroke="#444" stroke-width="0.5"/>
<line x1="125.12" y1="544.70" x2="125.12" y2="554.20" stroke="#444" stroke-width="0.5"/>
<line x1="122.62" y1="554.20" x2="127.62" y2="554.20" stroke="#444" stroke-width="0.5"/>
<line x1="132.48" y1="533.30" x2="132.48" y2="542.80" stroke="#444" stroke-width="0.5"/>
<line x1="129.98" y1="533.30" x2="134.98" y2="533.30" stroke="#444" stroke-width="0.5"/>
<line x1="132.48" y1="542.80" x2="132.48" y2="552.30" stroke="#444" stroke-width="0.5"/>
<line x1="129.98" y1="552.30" x2="134.98" y2="552.30" stroke="#444" stroke-width="0.5"/>
<line x1="139.84" y1="535.20" x2="139.84" y2="544.70" stroke="#444" stroke-width="0.5"/>
<line x1="137.34" y1="535.20" x2="142.34" y2="535.20" stroke="#444" stroke-width="0.5"/>
<line x1="139.84" y1="544.70" x2="139.84" y2="554.20" stroke="#444" stroke-width="0.5"/>
<line x1="137.34" y1="554.20" x2="142.34" y2="554.20" stroke="#444" stroke-width="0.5"/>
<line x1="147.20" y1="534.20" x2="147.20" y2="543.70" stroke="#444" stroke-width="0.5"/>
<line x1="144.70" y1="534.20" x2="149.70" y2="534.20" stroke="#444" stroke-width="0.5"/>
<line x1="147.20" y1="543.70" x2="147.20" y2="553.20" stroke="#444" stroke-width="0.5"/>
<line x1="144.70" y1="553.20" x2="149.70" y2="553.20" stroke="#444" stroke-width="0.5"/>
<line x1="156.40" y1="532.00" x2="156.40" y2="541.50" stroke="#444" stroke-width="0.5"/>
<line x1="153.90" y1="532.00" x2="158.90" y2="532.00" stroke="#444" stroke-width="0.5"/>
<line x1="156.40" y1="541.50" x2="156.40" y2="551.00" stroke="#444" stroke-width="0.5"/>
<line x1="153.90" y1="551.00" x2="158.90" y2="551.00" stroke="#444" stroke-width="0.5"/>
<line x1="165.60" y1="536.00" x2="165.60" y2="545.50" stroke="#444" stroke-width="0.5"/>
<line x1="163.10" y1="536.00" x2="168.10" y2="536.00" stroke="#444" stroke-width="0.5"/>
<line x1="165.60" y1="545.50" x2="165.60" y2="555.00" stroke="#444" stroke-width="0.5"/>
<line x1="163.10" y1="555.00" x2="168.10" y2="555.00" stroke="#444" stroke-width="0.5"/>
<line x1="88.32" y1="562.80" x2="88.32" y2="570.80" stroke="#444" stroke-width="0.5"/>
<line x1="85.82" y1="562.80" x2="90.82" y2="562.80" stroke="#444" stroke-width="0.5"/>
<line x1="88.32" y1="570.80" x2="88.32" y2="578.80" stroke="#444" stroke-width="0.5"/>
<line x1="85.82" y1="578.80" x2="90.82" y2="578.80" stroke="#444" stroke-width="0.5"/>
<line x1="95.68" y1="549.40" x2="95.68" y2="557.40" stroke="#444" stroke-width="0.5"/>
<line x1="93.18" y1="549.40" x2="98.18" y2="549.40" stroke="#444" stroke-width="0.5"/>
<line x1="95.68" y1="557.40" x2="95.68" y2="565.40" stroke="#444" stroke-width="0.5"/>
<line x1="93.18" y1="565.40" x2="98.18" y2="565.40" stroke="#444" stroke-width="0.5"/>
<line x1="103.04" y1="547.90" x2="103.04" y2="555.90" stroke="#444" stroke-width="0.5"/>
<line x1="100.54" y1="547.90" x2="105.54" y2="547.90" stroke="#444" stroke-width="0.5"/>
<line x1="103.04" y1="555.90" x2="103.04" y2="563.90" stroke="#444" stroke-width="0.5"/>
<line x1="100.54" y1="563.90" x2="105.54" y2="563.90" stroke="#444" stroke-width="0.5"/>
<line x1="110.40" y1="538.20" x2="110.40" y2="546.20" stroke="#444" stroke-width="0.5"/>
<line x1="107.90" y1="538.20" x2="112.90" y2="538.20" stroke="#444" stroke-width="0.5"/>
<line x1="110.40" y1="546.20" x2="110.40" y2="554.20" stroke="#444" stroke-width="0.5"/>
<line x1="107.90" y1="554.20" x2="112.90" y2="554.20" stroke="#444" stroke-width="0.5"/>
<line x1="117.76" y1="540.70" x2="117.76" y2="548.70" stroke="#444" stroke-width="0.5"/>
<line x1="115.26" y1="540.70" x2="120.26" y2="540.70" stroke="#444" stroke-width="0.5"/>
<line x1="117.76" y1="548.70" x2="117.76" y2="556.70" stroke="#444" stroke-width="0.5"/>
<line x1="115.26" y1="556.70" x2="120.26" y2="556.70" stroke="#444" stroke-width="0.5"/>
<line x1="125.12" y1="542.60" x2="125.12" y2="550.60" stroke="#444" stroke-width="0.5"/>
<line x1="122.62" y1="542.60" x2="127.62" y2="542.60" stroke="#444" stroke-width="0.5"/>
<line x1="125.12" y1="550.60" x2="125.12" y2="558.60" stroke="#444" stroke-width="0.5"/>
<line x1="122.62" y1="558.60" x2="127.62" y2="558.60" stroke="#444" stroke-width="0.5"/>
<line x1="132.48" y1="540.10" x2="132.48" y2="548.10" stroke="#444" stroke-width="0.5"/>
<line x1="129.98" y1="540.10" x2="134.98" y2="540.10" stroke="#444" stroke-width="0.5"/>
<line x1="132.48" y1="548.10" x2="132.48" y2="556.10" stroke="#444" stroke-width="0.5"/>
<line x1="129.98" y1="556.10" x2="134.98" y2="556.10" stroke="#444" stroke-width="0.5"/>
<line x1="139.84" y1="539.70" x2="139.84" y2="547.70" stroke="#444" stroke-width="0.5"/>
<line x1="137.34" y1="539.70" x2="142.34" y2="539.70" stroke="#444" stroke-width="0.5"/>
<line x1="139.84" y1="547.70" x2="139.84" y2="555.70" stroke="#444" stroke-width="0.5"/>
<line x1="137.34" y1="555.70" x2="142.34" y2="555.70" stroke="#444" stroke-width="0.5"/>
<line x1="147.20" y1="537.50" x2="147.20" y2="545.50" stroke="#444" stroke-width="0.5"/>
<line x1="144.70" y1="537.50" x2="149.70" y2="537.50" stroke="#444" stroke-width="0.5"/>
<line x1="147.20" y1="545.50" x2="147.20" y2="553.50" stroke="#444" stroke-width="0.5"/>
<line x1="144.70" y1="553.50" x2="149.70" y2="553.50" stroke="#444" stroke-width="0.5"/>
<line x1="156.40" y1="534.80" x2="156.40" y2="542.80" stroke="#444" stroke-width="0.5"/>
<line x1="153.90" y1="534.80" x2="158.90" y2="534.80" stroke="#444" stroke-width="0.5"/>
<line x1="156.40" y1="542.80" x2="156.40" y2="550.80" stroke="#444" stroke-width="0.5"/>
<line x1="153.90" y1="550.80" x2="158.90" y2="550.80" stroke="#444" stroke-width="0.5"/>
<line x1="165.60" y1="536.30" x2="165.60" y2="544.30" stroke="#444" stroke-width="0.5"/>
<line x1="163.10" y1="536.30" x2="168.10" y2="536.30" stroke="#444" stroke-width="0.5"/>
<line x1="165.60" y1="544.30" x2="165.60" y2="552.30" stroke="#444" stroke-width="0.5"/>
<line x1="163.10" y1="552.30" x2="168.10" y2="552.30" stroke="#444" stroke-width="0.5"/>
<line x1="80.96" y1="583.50" x2="80.96" y2="589.50" stroke="#444" stroke-width="0.55"/>
<line x1="78.46" y1="583.50" x2="83.46" y2="583.50" stroke="#444" stroke-width="0.55"/>
<line x1="80.96" y1="589.50" x2="80.96" y2="595.50" stroke="#444" stroke-width="0.55"/>
<line x1="78.46" y1="595.50" x2="83.46" y2="595.50" stroke="#444" stroke-width="0.55"/>
<line x1="88.32" y1="583.50" x2="88.32" y2="589.50" stroke="#444" stroke-width="0.55"/>
<line x1="85.82" y1="583.50" x2="90.82" y2="583.50" stroke="#444" stroke-width="0.55"/>
<line x1="88.32" y1="589.50" x2="88.32" y2="595.50" stroke="#444" stroke-width="0.55"/>
<line x1="85.82" y1="595.50" x2="90.82" y2="595.50" stroke="#444" stroke-width="0.55"/>
<line x1="95.68" y1="581.80" x2="95.68" y2="587.80" stroke="#444" stroke-width="0.55"/>
<line x1="93.18" y1="581.80" x2="98.18" y2="581.80" stroke="#444" stroke-width="0.55"/>
<line x1="95.68" y1="587.80" x2="95.68" y2="593.80" stroke="#444" stroke-width="0.55"/>
<line x1="93.18" y1="593.80" x2="98.18" y2="593.80" stroke="#444" stroke-width="0.55"/>
<line x1="103.04" y1="581.00" x2="103.04" y2="587.00" stroke="#444" stroke-width="0.55"/>
<line x1="100.54" y1="581.00" x2="105.54" y2="581.00" stroke="#444" stroke-width="0.55"/>
<line x1="103.04" y1="587.00" x2="103.04" y2="593.00" stroke="#444" stroke-width="0.55"/>
<line x1="100.54" y1="593.00" x2="105.54" y2="593.00" stroke="#444" stroke-width="0.55"/>
<line x1="110.40" y1="577.90" x2="110.40" y2="583.90" stroke="#444" stroke-width="0.55"/>
<line x1="107.90" y1="577.90" x2="112.90" y2="577.90" stroke="#444" stroke-width="0.55"/>
<line x1="110.40" y1="583.90" x2="110.40" y2="589.90" stroke="#444" stroke-width="0.55"/>
<line x1="107.90" y1="589.90" x2="112.90" y2="589.90" stroke="#444" stroke-width="0.55"/>
<line x1="117.76" y1="578.60" x2="117.76" y2="584.60" stroke="#444" stroke-width="0.55"/>
<line x1="115.26" y1="578.60" x2="120.26" y2="578.60" stroke="#444" stroke-width="0.55"/>
<line x1="117.76" y1="584.60" x2="117.76" y2="590.60" stroke="#444" stroke-width="0.55"/>
<line x1="115.26" y1="590.60" x2="120.26" y2="590.60" stroke="#444" stroke-width="0.55"/>
<line x1="125.12" y1="579.60" x2="125.12" y2="585.60" stroke="#444" stroke-width="0.55"/>
<line x1="122.62" y1="579.60" x2="127.62" y2="579.60" stroke="#444" stroke-width="0.55"/>
<line x1="125.12" y1="585.60" x2="125.12" y2="591.60" stroke="#444" stroke-width="0.55"/>
<line x1="122.62" y1="591.60" x2="127.62" y2="591.60" stroke="#444" stroke-width="0.55"/>
<line x1="132.48" y1="582.60" x2="132.48" y2="588.60" stroke="#444" stroke-width="0.55"/>
<line x1="129.98" y1="582.60" x2="134.98" y2="582.60" stroke="#444" stroke-width="0.55"/>
<line x1="132.48" y1="588.60" x2="132.48" y2="594.60" stroke="#444" stroke-width="0.55"/>
<line x1="129.98" y1="594.60" x2="134.98" y2="594.60" stroke="#444" stroke-width="0.55"/>
<line x1="139.84" y1="580.80" x2="139.84" y2="586.80" stroke="#444" stroke-width="0.55"/>
<line x1="137.34" y1="580.80" x2="142.34" y2="580.80" stroke="#444" stroke-width="0.55"/>
<line x1="139.84" y1="586.80" x2="139.84" y2="592.80" stroke="#444" stroke-width="0.55"/>
<line x1="137.34" y1="592.80" x2="142.34" y2="592.80" stroke="#444" stroke-width="0.55"/>
<line x1="147.20" y1="580.10" x2="147.20" y2="586.10" stroke="#444" stroke-width="0.55"/>
<line x1="144.70" y1="580.10" x2="149.70" y2="580.10" stroke="#444" stroke-width="0.55"/>
<line x1="147.20" y1="586.10" x2="147.20" y2="592.10" stroke="#444" stroke-width="0.55"/>
<line x1="144.70" y1="592.10" x2="149.70" y2="592.10" stroke="#444" stroke-width="0.55"/>
<line x1="156.40" y1="573.10" x2="156.40" y2="579.10" stroke="#444" stroke-width="0.55"/>
<line x1="153.90" y1="573.10" x2="158.90" y2="573.10" stroke="#444" stroke-width="0.55"/>
<line x1="156.40" y1="579.10" x2="156.40" y2="585.10" stroke="#444" stroke-width="0.55"/>
<line x1="153.90" y1="585.10" x2="158.90" y2="585.10" stroke="#444" stroke-width="0.55"/>
<line x1="165.60" y1="577.40" x2="165.60" y2="583.40" stroke="#444" stroke-width="0.55"/>
<line x1="163.10" y1="577.40" x2="168.10" y2="577.40" stroke="#444" stroke-width="0.55"/>
<line x1="165.60" y1="583.40" x2="165.60" y2="589.40" stroke="#444" stroke-width="0.55"/>
<line x1="163.10" y1="589.40" x2="168.10" y2="589.40" stroke="#444" stroke-width="0.55"/>
<circle cx="55.20" cy="602.20" r="3.65" fill="#2f5597" stroke="#1a1a1a" stroke-width="0.7"/>
<circle cx="66.24" cy="551.00" r="3.65" fill="#2f5597" stroke="#1a1a1a" stroke-width="0.7"/>
<circle cx="73.60" cy="575.50" r="3.65" fill="#2f5597" stroke="#1a1a1a" stroke-width="0.7"/>
<circle cx="80.96" cy="589.50" r="3.65" fill="#2f5597" stroke="#1a1a1a" stroke-width="0.7"/>
<circle cx="88.32" cy="589.50" r="3.65" fill="#2f5597" stroke="#1a1a1a" stroke-width="0.7"/>
<circle cx="95.68" cy="587.80" r="3.65" fill="#2f5597" stroke="#1a1a1a" stroke-width="0.7"/>
<circle cx="103.04" cy="587.00" r="3.65" fill="#2f5597" stroke="#1a1a1a" stroke-width="0.7"/>
<circle cx="110.40" cy="583.90" r="3.65" fill="#2f5597" stroke="#1a1a1a" stroke-width="0.7"/>
<circle cx="117.76" cy="584.60" r="3.65" fill="#2f5597" stroke="#1a1a1a" stroke-width="0.7"/>
<circle cx="125.12" cy="585.60" r="3.65" fill="#2f5597" stroke="#1a1a1a" stroke-width="0.7"/>
<circle cx="132.48" cy="588.60" r="3.65" fill="#2f5597" stroke="#1a1a1a" stroke-width="0.7"/>
<circle cx="139.84" cy="586.80" r="3.65" fill="#2f5597" stroke="#1a1a1a" stroke-width="0.7"/>
<circle cx="147.20" cy="586.10" r="3.65" fill="#2f5597" stroke="#1a1a1a" stroke-width="0.7"/>
<circle cx="156.40" cy="579.10" r="3.65" fill="#2f5597" stroke="#1a1a1a" stroke-width="0.7"/>
<circle cx="165.60" cy="583.40" r="3.65" fill="#2f5597" stroke="#1a1a1a" stroke-width="0.7"/>
<circle cx="55.20" cy="602.20" r="3.65" fill="#5b2b74" stroke="#1a1a1a" stroke-width="0.7"/>
<circle cx="66.24" cy="541.40" r="3.65" fill="#5b2b74" stroke="#1a1a1a" stroke-width="0.7"/>
<circle cx="73.60" cy="559.80" r="3.65" fill="#5b2b74" stroke="#1a1a1a" stroke-width="0.7"/>
<circle cx="80.96" cy="580.20" r="3.65" fill="#5b2b74" stroke="#1a1a1a" stroke-width="0.7"/>
<circle cx="88.32" cy="570.80" r="3.65" fill="#5b2b74" stroke="#1a1a1a" stroke-width="0.7"/>
<circle cx="95.68" cy="557.40" r="3.65" fill="#5b2b74" stroke="#1a1a1a" stroke-width="0.7"/>
<circle cx="103.04" cy="555.90" r="3.65" fill="#5b2b74" stroke="#1a1a1a" stroke-width="0.7"/>
<circle cx="110.40" cy="546.20" r="3.65" fill="#5b2b74" stroke="#1a1a1a" stroke-width="0.7"/>
<circle cx="117.76" cy="548.70" r="3.65" fill="#5b2b74" stroke="#1a1a1a" stroke-width="0.7"/>
<circle cx="125.12" cy="550.60" r="3.65" fill="#5b2b74" stroke="#1a1a1a" stroke-width="0.7"/>
<circle cx="132.48" cy="548.10" r="3.65" fill="#5b2b74" stroke="#1a1a1a" stroke-width="0.7"/>
<circle cx="139.84" cy="547.70" r="3.65" fill="#5b2b74" stroke="#1a1a1a" stroke-width="0.7"/>
<circle cx="147.20" cy="545.50" r="3.65" fill="#5b2b74" stroke="#1a1a1a" stroke-width="0.7"/>
<circle cx="156.40" cy="542.80" r="3.65" fill="#5b2b74" stroke="#1a1a1a" stroke-width="0.7"/>
<circle cx="165.60" cy="544.30" r="3.65" fill="#5b2b74" stroke="#1a1a1a" stroke-width="0.7"/>
<circle cx="55.20" cy="602.20" r="3.65" fill="#c1002d" stroke="#1a1a1a" stroke-width="0.7"/>
<circle cx="66.24" cy="548.40" r="3.65" fill="#c1002d" stroke="#1a1a1a" stroke-width="0.7"/>
<circle cx="73.60" cy="569.10" r="3.65" fill="#c1002d" stroke="#1a1a1a" stroke-width="0.7"/>
<circle cx="80.96" cy="586.00" r="3.65" fill="#c1002d" stroke="#1a1a1a" stroke-width="0.7"/>
<circle cx="88.32" cy="567.10" r="3.65" fill="#c1002d" stroke="#1a1a1a" stroke-width="0.7"/>
<circle cx="95.68" cy="551.60" r="3.65" fill="#c1002d" stroke="#1a1a1a" stroke-width="0.7"/>
<circle cx="103.04" cy="548.10" r="3.65" fill="#c1002d" stroke="#1a1a1a" stroke-width="0.7"/>
<circle cx="110.40" cy="541.30" r="3.65" fill="#c1002d" stroke="#1a1a1a" stroke-width="0.7"/>
<circle cx="117.76" cy="543.70" r="3.65" fill="#c1002d" stroke="#1a1a1a" stroke-width="0.7"/>
<circle cx="125.12" cy="544.70" r="3.65" fill="#c1002d" stroke="#1a1a1a" stroke-width="0.7"/>
<circle cx="132.48" cy="542.80" r="3.65" fill="#c1002d" stroke="#1a1a1a" stroke-width="0.7"/>
<circle cx="139.84" cy="544.70" r="3.65" fill="#c1002d" stroke="#1a1a1a" stroke-width="0.7"/>
<circle cx="147.20" cy="543.70" r="3.65" fill="#c1002d" stroke="#1a1a1a" stroke-width="0.7"/>
<circle cx="156.40" cy="541.50" r="3.65" fill="#c1002d" stroke="#1a1a1a" stroke-width="0.7"/>
<circle cx="165.60" cy="545.50" r="3.65" fill="#c1002d" stroke="#1a1a1a" stroke-width="0.7"/>
<circle cx="55.20" cy="601.90" r="3.65" fill="#6ab343" stroke="#1a1a1a" stroke-width="0.7"/>
<circle cx="66.24" cy="565.90" r="3.65" fill="#6ab343" stroke="#1a1a1a" stroke-width="0.7"/>
<circle cx="73.60" cy="592.40" r="3.65" fill="#6ab343" stroke="#1a1a1a" stroke-width="0.7"/>
<circle cx="80.96" cy="601.20" r="3.65" fill="#6ab343" stroke="#1a1a1a" stroke-width="0.7"/>
<circle cx="88.32" cy="598.30" r="3.65" fill="#6ab343" stroke="#1a1a1a" stroke-width="0.7"/>
<circle cx="95.68" cy="598.30" r="3.65" fill="#6ab343" stroke="#1a1a1a" stroke-width="0.7"/>
<circle cx="103.04" cy="597.70" r="3.65" fill="#6ab343" stroke="#1a1a1a" stroke-width="0.7"/>
<circle cx="110.40" cy="598.60" r="3.65" fill="#6ab343" stroke="#1a1a1a" stroke-width="0.7"/>
<circle cx="117.76" cy="598.60" r="3.65" fill="#6ab343" stroke="#1a1a1a" stroke-width="0.7"/>
<circle cx="125.12" cy="600.80" r="3.65" fill="#6ab343" stroke="#1a1a1a" stroke-width="0.7"/>
<circle cx="132.48" cy="598.90" r="3.65" fill="#6ab343" stroke="#1a1a1a" stroke-width="0.7"/>
<circle cx="139.84" cy="597.10" r="3.65" fill="#6ab343" stroke="#1a1a1a" stroke-width="0.7"/>
<circle cx="147.20" cy="600.40" r="3.65" fill="#6ab343" stroke="#1a1a1a" stroke-width="0.7"/>
<circle cx="156.40" cy="600.10" r="3.65" fill="#6ab343" stroke="#1a1a1a" stroke-width="0.7"/>
<circle cx="165.60" cy="601.60" r="3.65" fill="#6ab343" stroke="#1a1a1a" stroke-width="0.7"/>
<line x1="226.20" y1="486.30" x2="226.20" y2="603.80" stroke="#000" stroke-width="1.1"/>
<line x1="223.40" y1="599.00" x2="226.20" y2="599.00" stroke="#000" stroke-width="1.1"/>
<text x="217.60" y="601.99" font-size="8.3" text-anchor="middle">0</text>
<line x1="223.40" y1="571.80" x2="226.20" y2="571.80" stroke="#000" stroke-width="1.1"/>
<text x="217.60" y="574.79" font-size="8.3" text-anchor="middle">1</text>
<line x1="223.40" y1="544.60" x2="226.20" y2="544.60" stroke="#000" stroke-width="1.1"/>
<text x="217.60" y="547.59" font-size="8.3" text-anchor="middle">2</text>
<line x1="223.40" y1="517.40" x2="226.20" y2="517.40" stroke="#000" stroke-width="1.1"/>
<text x="217.60" y="520.39" font-size="8.3" text-anchor="middle">3</text>
<line x1="223.40" y1="490.20" x2="226.20" y2="490.20" stroke="#000" stroke-width="1.1"/>
<text x="217.60" y="493.19" font-size="8.3" text-anchor="middle">4</text>
<line x1="226.20" y1="603.70" x2="343.80" y2="603.70" stroke="#000" stroke-width="1.4"/>
<line x1="228.00" y1="603.70" x2="228.00" y2="606.70" stroke="#000" stroke-width="1.4"/>
<text x="228.00" y="618.20" font-size="8.4" text-anchor="middle">0</text>
<line x1="246.50" y1="603.70" x2="246.50" y2="606.70" stroke="#000" stroke-width="1.4"/>
<text x="246.50" y="618.20" font-size="8.4" text-anchor="middle">10</text>
<line x1="265.00" y1="603.70" x2="265.00" y2="606.70" stroke="#000" stroke-width="1.4"/>
<text x="265.00" y="618.20" font-size="8.4" text-anchor="middle">20</text>
<line x1="283.50" y1="603.70" x2="283.50" y2="606.70" stroke="#000" stroke-width="1.4"/>
<text x="283.50" y="618.20" font-size="8.4" text-anchor="middle">30</text>
<line x1="302.00" y1="603.70" x2="302.00" y2="606.70" stroke="#000" stroke-width="1.4"/>
<text x="302.00" y="618.20" font-size="8.4" text-anchor="middle">40</text>
<line x1="320.50" y1="603.70" x2="320.50" y2="606.70" stroke="#000" stroke-width="1.4"/>
<text x="320.50" y="618.20" font-size="8.4" text-anchor="middle">50</text>
<line x1="339.00" y1="603.70" x2="339.00" y2="606.70" stroke="#000" stroke-width="1.4"/>
<text x="339.00" y="618.20" font-size="8.4" text-anchor="middle">60</text>
<text x="242.70" y="632.20" font-size="10.4" textLength="83.80" lengthAdjust="spacingAndGlyphs">Days after allo-HCT</text>
<text x="210.00" y="597.20" font-size="10.4" textLength="103.00" lengthAdjust="spacingAndGlyphs" transform="rotate(-90 210.00 597.20)">Cutaneous GVHD score</text>
<line x1="264.5" y1="520.2" x2="341.5" y2="520.2" stroke="#444" stroke-width="1.3"/>
<circle cx="303.10" cy="516.30" r="1.05" fill="#333"/>
<polyline points="228.00,599.00 239.10,599.00 246.50,599.00 253.90,597.00 261.30,591.50 268.70,580.80 276.10,575.90 283.50,560.70 290.90,552.60 298.30,554.30 305.70,555.20 313.10,552.60 320.50,553.00 329.75,554.30 339.00,553.10" fill="none" stroke="#5b2b74" stroke-width="0.7"/>
<polyline points="228.00,599.00 239.10,599.00 246.50,599.00 253.90,598.00 261.30,595.00 268.70,593.60 276.10,592.90 283.50,592.40 290.90,592.90 298.30,592.90 305.70,591.20 313.10,592.90 320.50,592.90 329.75,592.90 339.00,592.90" fill="none" stroke="#2f5597" stroke-width="0.7"/>
<polyline points="228.00,599.00 239.10,599.30 246.50,599.00 253.90,596.30 261.30,582.90 268.70,566.40 276.10,556.40 283.50,556.40 290.90,550.30 298.30,550.30 305.70,550.30 313.10,550.30 320.50,550.80 329.75,550.80 339.00,550.80" fill="none" stroke="#c1002d" stroke-width="0.7"/>
<polyline points="228.00,599.00 239.10,593.60 246.50,599.00 253.90,599.00 261.30,599.30 268.70,599.30 276.10,599.30 283.50,599.30 290.90,599.30 298.30,599.30 305.70,599.30 313.10,599.30 320.50,599.30 329.75,599.30 339.00,599.30" fill="none" stroke="#6ab343" stroke-width="0.7"/>
<line x1="268.70" y1="553.40" x2="268.70" y2="566.40" stroke="#555" stroke-width="0.5"/>
<line x1="266.20" y1="553.40" x2="271.20" y2="553.40" stroke="#555" stroke-width="0.5"/>
<line x1="268.70" y1="566.40" x2="268.70" y2="579.40" stroke="#555" stroke-width="0.5"/>
<line x1="266.20" y1="579.40" x2="271.20" y2="579.40" stroke="#555" stroke-width="0.5"/>
<line x1="276.10" y1="543.40" x2="276.10" y2="556.40" stroke="#555" stroke-width="0.5"/>
<line x1="273.60" y1="543.40" x2="278.60" y2="543.40" stroke="#555" stroke-width="0.5"/>
<line x1="276.10" y1="556.40" x2="276.10" y2="569.40" stroke="#555" stroke-width="0.5"/>
<line x1="273.60" y1="569.40" x2="278.60" y2="569.40" stroke="#555" stroke-width="0.5"/>
<line x1="283.50" y1="543.40" x2="283.50" y2="556.40" stroke="#555" stroke-width="0.5"/>
<line x1="281.00" y1="543.40" x2="286.00" y2="543.40" stroke="#555" stroke-width="0.5"/>
<line x1="283.50" y1="556.40" x2="283.50" y2="569.40" stroke="#555" stroke-width="0.5"/>
<line x1="281.00" y1="569.40" x2="286.00" y2="569.40" stroke="#555" stroke-width="0.5"/>
<line x1="290.90" y1="537.30" x2="290.90" y2="550.30" stroke="#555" stroke-width="0.5"/>
<line x1="288.40" y1="537.30" x2="293.40" y2="537.30" stroke="#555" stroke-width="0.5"/>
<line x1="290.90" y1="550.30" x2="290.90" y2="563.30" stroke="#555" stroke-width="0.5"/>
<line x1="288.40" y1="563.30" x2="293.40" y2="563.30" stroke="#555" stroke-width="0.5"/>
<line x1="298.30" y1="537.30" x2="298.30" y2="550.30" stroke="#555" stroke-width="0.5"/>
<line x1="295.80" y1="537.30" x2="300.80" y2="537.30" stroke="#555" stroke-width="0.5"/>
<line x1="298.30" y1="550.30" x2="298.30" y2="563.30" stroke="#555" stroke-width="0.5"/>
<line x1="295.80" y1="563.30" x2="300.80" y2="563.30" stroke="#555" stroke-width="0.5"/>
<line x1="305.70" y1="537.30" x2="305.70" y2="550.30" stroke="#555" stroke-width="0.5"/>
<line x1="303.20" y1="537.30" x2="308.20" y2="537.30" stroke="#555" stroke-width="0.5"/>
<line x1="305.70" y1="550.30" x2="305.70" y2="563.30" stroke="#555" stroke-width="0.5"/>
<line x1="303.20" y1="563.30" x2="308.20" y2="563.30" stroke="#555" stroke-width="0.5"/>
<line x1="313.10" y1="537.30" x2="313.10" y2="550.30" stroke="#555" stroke-width="0.5"/>
<line x1="310.60" y1="537.30" x2="315.60" y2="537.30" stroke="#555" stroke-width="0.5"/>
<line x1="313.10" y1="550.30" x2="313.10" y2="563.30" stroke="#555" stroke-width="0.5"/>
<line x1="310.60" y1="563.30" x2="315.60" y2="563.30" stroke="#555" stroke-width="0.5"/>
<line x1="320.50" y1="537.80" x2="320.50" y2="550.80" stroke="#555" stroke-width="0.5"/>
<line x1="318.00" y1="537.80" x2="323.00" y2="537.80" stroke="#555" stroke-width="0.5"/>
<line x1="320.50" y1="550.80" x2="320.50" y2="563.80" stroke="#555" stroke-width="0.5"/>
<line x1="318.00" y1="563.80" x2="323.00" y2="563.80" stroke="#555" stroke-width="0.5"/>
<line x1="329.75" y1="537.80" x2="329.75" y2="550.80" stroke="#555" stroke-width="0.5"/>
<line x1="327.25" y1="537.80" x2="332.25" y2="537.80" stroke="#555" stroke-width="0.5"/>
<line x1="329.75" y1="550.80" x2="329.75" y2="563.80" stroke="#555" stroke-width="0.5"/>
<line x1="327.25" y1="563.80" x2="332.25" y2="563.80" stroke="#555" stroke-width="0.5"/>
<line x1="339.00" y1="537.80" x2="339.00" y2="550.80" stroke="#555" stroke-width="0.5"/>
<line x1="336.50" y1="537.80" x2="341.50" y2="537.80" stroke="#555" stroke-width="0.5"/>
<line x1="339.00" y1="550.80" x2="339.00" y2="563.80" stroke="#555" stroke-width="0.5"/>
<line x1="336.50" y1="563.80" x2="341.50" y2="563.80" stroke="#555" stroke-width="0.5"/>
<line x1="268.70" y1="571.80" x2="268.70" y2="580.80" stroke="#555" stroke-width="0.5"/>
<line x1="266.20" y1="571.80" x2="271.20" y2="571.80" stroke="#555" stroke-width="0.5"/>
<line x1="268.70" y1="580.80" x2="268.70" y2="589.80" stroke="#555" stroke-width="0.5"/>
<line x1="266.20" y1="589.80" x2="271.20" y2="589.80" stroke="#555" stroke-width="0.5"/>
<line x1="276.10" y1="566.90" x2="276.10" y2="575.90" stroke="#555" stroke-width="0.5"/>
<line x1="273.60" y1="566.90" x2="278.60" y2="566.90" stroke="#555" stroke-width="0.5"/>
<line x1="276.10" y1="575.90" x2="276.10" y2="584.90" stroke="#555" stroke-width="0.5"/>
<line x1="273.60" y1="584.90" x2="278.60" y2="584.90" stroke="#555" stroke-width="0.5"/>
<line x1="283.50" y1="551.70" x2="283.50" y2="560.70" stroke="#555" stroke-width="0.5"/>
<line x1="281.00" y1="551.70" x2="286.00" y2="551.70" stroke="#555" stroke-width="0.5"/>
<line x1="283.50" y1="560.70" x2="283.50" y2="569.70" stroke="#555" stroke-width="0.5"/>
<line x1="281.00" y1="569.70" x2="286.00" y2="569.70" stroke="#555" stroke-width="0.5"/>
<line x1="290.90" y1="543.60" x2="290.90" y2="552.60" stroke="#555" stroke-width="0.5"/>
<line x1="288.40" y1="543.60" x2="293.40" y2="543.60" stroke="#555" stroke-width="0.5"/>
<line x1="290.90" y1="552.60" x2="290.90" y2="561.60" stroke="#555" stroke-width="0.5"/>
<line x1="288.40" y1="561.60" x2="293.40" y2="561.60" stroke="#555" stroke-width="0.5"/>
<line x1="298.30" y1="545.30" x2="298.30" y2="554.30" stroke="#555" stroke-width="0.5"/>
<line x1="295.80" y1="545.30" x2="300.80" y2="545.30" stroke="#555" stroke-width="0.5"/>
<line x1="298.30" y1="554.30" x2="298.30" y2="563.30" stroke="#555" stroke-width="0.5"/>
<line x1="295.80" y1="563.30" x2="300.80" y2="563.30" stroke="#555" stroke-width="0.5"/>
<line x1="305.70" y1="546.20" x2="305.70" y2="555.20" stroke="#555" stroke-width="0.5"/>
<line x1="303.20" y1="546.20" x2="308.20" y2="546.20" stroke="#555" stroke-width="0.5"/>
<line x1="305.70" y1="555.20" x2="305.70" y2="564.20" stroke="#555" stroke-width="0.5"/>
<line x1="303.20" y1="564.20" x2="308.20" y2="564.20" stroke="#555" stroke-width="0.5"/>
<line x1="313.10" y1="543.60" x2="313.10" y2="552.60" stroke="#555" stroke-width="0.5"/>
<line x1="310.60" y1="543.60" x2="315.60" y2="543.60" stroke="#555" stroke-width="0.5"/>
<line x1="313.10" y1="552.60" x2="313.10" y2="561.60" stroke="#555" stroke-width="0.5"/>
<line x1="310.60" y1="561.60" x2="315.60" y2="561.60" stroke="#555" stroke-width="0.5"/>
<line x1="320.50" y1="544.00" x2="320.50" y2="553.00" stroke="#555" stroke-width="0.5"/>
<line x1="318.00" y1="544.00" x2="323.00" y2="544.00" stroke="#555" stroke-width="0.5"/>
<line x1="320.50" y1="553.00" x2="320.50" y2="562.00" stroke="#555" stroke-width="0.5"/>
<line x1="318.00" y1="562.00" x2="323.00" y2="562.00" stroke="#555" stroke-width="0.5"/>
<line x1="329.75" y1="545.30" x2="329.75" y2="554.30" stroke="#555" stroke-width="0.5"/>
<line x1="327.25" y1="545.30" x2="332.25" y2="545.30" stroke="#555" stroke-width="0.5"/>
<line x1="329.75" y1="554.30" x2="329.75" y2="563.30" stroke="#555" stroke-width="0.5"/>
<line x1="327.25" y1="563.30" x2="332.25" y2="563.30" stroke="#555" stroke-width="0.5"/>
<line x1="339.00" y1="544.10" x2="339.00" y2="553.10" stroke="#555" stroke-width="0.5"/>
<line x1="336.50" y1="544.10" x2="341.50" y2="544.10" stroke="#555" stroke-width="0.5"/>
<line x1="339.00" y1="553.10" x2="339.00" y2="562.10" stroke="#555" stroke-width="0.5"/>
<line x1="336.50" y1="562.10" x2="341.50" y2="562.10" stroke="#555" stroke-width="0.5"/>
<line x1="261.30" y1="590.20" x2="261.30" y2="595.00" stroke="#555" stroke-width="0.5"/>
<line x1="258.80" y1="590.20" x2="263.80" y2="590.20" stroke="#555" stroke-width="0.5"/>
<line x1="268.70" y1="588.80" x2="268.70" y2="593.60" stroke="#555" stroke-width="0.5"/>
<line x1="266.20" y1="588.80" x2="271.20" y2="588.80" stroke="#555" stroke-width="0.5"/>
<line x1="276.10" y1="588.10" x2="276.10" y2="592.90" stroke="#555" stroke-width="0.5"/>
<line x1="273.60" y1="588.10" x2="278.60" y2="588.10" stroke="#555" stroke-width="0.5"/>
<line x1="283.50" y1="587.60" x2="283.50" y2="592.40" stroke="#555" stroke-width="0.5"/>
<line x1="281.00" y1="587.60" x2="286.00" y2="587.60" stroke="#555" stroke-width="0.5"/>
<line x1="290.90" y1="588.10" x2="290.90" y2="592.90" stroke="#555" stroke-width="0.5"/>
<line x1="288.40" y1="588.10" x2="293.40" y2="588.10" stroke="#555" stroke-width="0.5"/>
<line x1="298.30" y1="588.10" x2="298.30" y2="592.90" stroke="#555" stroke-width="0.5"/>
<line x1="295.80" y1="588.10" x2="300.80" y2="588.10" stroke="#555" stroke-width="0.5"/>
<line x1="305.70" y1="586.40" x2="305.70" y2="591.20" stroke="#555" stroke-width="0.5"/>
<line x1="303.20" y1="586.40" x2="308.20" y2="586.40" stroke="#555" stroke-width="0.5"/>
<line x1="313.10" y1="588.10" x2="313.10" y2="592.90" stroke="#555" stroke-width="0.5"/>
<line x1="310.60" y1="588.10" x2="315.60" y2="588.10" stroke="#555" stroke-width="0.5"/>
<line x1="320.50" y1="588.10" x2="320.50" y2="592.90" stroke="#555" stroke-width="0.5"/>
<line x1="318.00" y1="588.10" x2="323.00" y2="588.10" stroke="#555" stroke-width="0.5"/>
<line x1="329.75" y1="588.10" x2="329.75" y2="592.90" stroke="#555" stroke-width="0.5"/>
<line x1="327.25" y1="588.10" x2="332.25" y2="588.10" stroke="#555" stroke-width="0.5"/>
<line x1="339.00" y1="588.10" x2="339.00" y2="592.90" stroke="#555" stroke-width="0.5"/>
<line x1="336.50" y1="588.10" x2="341.50" y2="588.10" stroke="#555" stroke-width="0.5"/>
<circle cx="228.00" cy="599.00" r="3.65" fill="#5b2b74" stroke="#1a1a1a" stroke-width="0.7"/>
<circle cx="239.10" cy="599.00" r="3.65" fill="#5b2b74" stroke="#1a1a1a" stroke-width="0.7"/>
<circle cx="246.50" cy="599.00" r="3.65" fill="#5b2b74" stroke="#1a1a1a" stroke-width="0.7"/>
<circle cx="253.90" cy="597.00" r="3.65" fill="#5b2b74" stroke="#1a1a1a" stroke-width="0.7"/>
<circle cx="261.30" cy="591.50" r="3.65" fill="#5b2b74" stroke="#1a1a1a" stroke-width="0.7"/>
<circle cx="268.70" cy="580.80" r="3.65" fill="#5b2b74" stroke="#1a1a1a" stroke-width="0.7"/>
<circle cx="276.10" cy="575.90" r="3.65" fill="#5b2b74" stroke="#1a1a1a" stroke-width="0.7"/>
<circle cx="283.50" cy="560.70" r="3.65" fill="#5b2b74" stroke="#1a1a1a" stroke-width="0.7"/>
<circle cx="290.90" cy="552.60" r="3.65" fill="#5b2b74" stroke="#1a1a1a" stroke-width="0.7"/>
<circle cx="298.30" cy="554.30" r="3.65" fill="#5b2b74" stroke="#1a1a1a" stroke-width="0.7"/>
<circle cx="305.70" cy="555.20" r="3.65" fill="#5b2b74" stroke="#1a1a1a" stroke-width="0.7"/>
<circle cx="313.10" cy="552.60" r="3.65" fill="#5b2b74" stroke="#1a1a1a" stroke-width="0.7"/>
<circle cx="320.50" cy="553.00" r="3.65" fill="#5b2b74" stroke="#1a1a1a" stroke-width="0.7"/>
<circle cx="329.75" cy="554.30" r="3.65" fill="#5b2b74" stroke="#1a1a1a" stroke-width="0.7"/>
<circle cx="339.00" cy="553.10" r="3.65" fill="#5b2b74" stroke="#1a1a1a" stroke-width="0.7"/>
<circle cx="228.00" cy="599.00" r="3.65" fill="#2f5597" stroke="#1a1a1a" stroke-width="0.7"/>
<circle cx="239.10" cy="599.00" r="3.65" fill="#2f5597" stroke="#1a1a1a" stroke-width="0.7"/>
<circle cx="246.50" cy="599.00" r="3.65" fill="#2f5597" stroke="#1a1a1a" stroke-width="0.7"/>
<circle cx="253.90" cy="598.00" r="3.65" fill="#2f5597" stroke="#1a1a1a" stroke-width="0.7"/>
<circle cx="261.30" cy="595.00" r="3.65" fill="#2f5597" stroke="#1a1a1a" stroke-width="0.7"/>
<circle cx="268.70" cy="593.60" r="3.65" fill="#2f5597" stroke="#1a1a1a" stroke-width="0.7"/>
<circle cx="276.10" cy="592.90" r="3.65" fill="#2f5597" stroke="#1a1a1a" stroke-width="0.7"/>
<circle cx="283.50" cy="592.40" r="3.65" fill="#2f5597" stroke="#1a1a1a" stroke-width="0.7"/>
<circle cx="290.90" cy="592.90" r="3.65" fill="#2f5597" stroke="#1a1a1a" stroke-width="0.7"/>
<circle cx="298.30" cy="592.90" r="3.65" fill="#2f5597" stroke="#1a1a1a" stroke-width="0.7"/>
<circle cx="305.70" cy="591.20" r="3.65" fill="#2f5597" stroke="#1a1a1a" stroke-width="0.7"/>
<circle cx="313.10" cy="592.90" r="3.65" fill="#2f5597" stroke="#1a1a1a" stroke-width="0.7"/>
<circle cx="320.50" cy="592.90" r="3.65" fill="#2f5597" stroke="#1a1a1a" stroke-width="0.7"/>
<circle cx="329.75" cy="592.90" r="3.65" fill="#2f5597" stroke="#1a1a1a" stroke-width="0.7"/>
<circle cx="339.00" cy="592.90" r="3.65" fill="#2f5597" stroke="#1a1a1a" stroke-width="0.7"/>
<circle cx="228.00" cy="599.00" r="3.65" fill="#c1002d" stroke="#1a1a1a" stroke-width="0.7"/>
<circle cx="239.10" cy="599.30" r="3.65" fill="#c1002d" stroke="#1a1a1a" stroke-width="0.7"/>
<circle cx="246.50" cy="599.00" r="3.65" fill="#c1002d" stroke="#1a1a1a" stroke-width="0.7"/>
<circle cx="253.90" cy="596.30" r="3.65" fill="#c1002d" stroke="#1a1a1a" stroke-width="0.7"/>
<circle cx="261.30" cy="582.90" r="3.65" fill="#c1002d" stroke="#1a1a1a" stroke-width="0.7"/>
<circle cx="268.70" cy="566.40" r="3.65" fill="#c1002d" stroke="#1a1a1a" stroke-width="0.7"/>
<circle cx="276.10" cy="556.40" r="3.65" fill="#c1002d" stroke="#1a1a1a" stroke-width="0.7"/>
<circle cx="283.50" cy="556.40" r="3.65" fill="#c1002d" stroke="#1a1a1a" stroke-width="0.7"/>
<circle cx="290.90" cy="550.30" r="3.65" fill="#c1002d" stroke="#1a1a1a" stroke-width="0.7"/>
<circle cx="298.30" cy="550.30" r="3.65" fill="#c1002d" stroke="#1a1a1a" stroke-width="0.7"/>
<circle cx="305.70" cy="550.30" r="3.65" fill="#c1002d" stroke="#1a1a1a" stroke-width="0.7"/>
<circle cx="313.10" cy="550.30" r="3.65" fill="#c1002d" stroke="#1a1a1a" stroke-width="0.7"/>
<circle cx="320.50" cy="550.80" r="3.65" fill="#c1002d" stroke="#1a1a1a" stroke-width="0.7"/>
<circle cx="329.75" cy="550.80" r="3.65" fill="#c1002d" stroke="#1a1a1a" stroke-width="0.7"/>
<circle cx="339.00" cy="550.80" r="3.65" fill="#c1002d" stroke="#1a1a1a" stroke-width="0.7"/>
<circle cx="228.00" cy="599.00" r="3.65" fill="#6ab343" stroke="#1a1a1a" stroke-width="0.7"/>
<circle cx="239.10" cy="593.60" r="3.65" fill="#6ab343" stroke="#1a1a1a" stroke-width="0.7"/>
<circle cx="246.50" cy="599.00" r="3.65" fill="#6ab343" stroke="#1a1a1a" stroke-width="0.7"/>
<circle cx="253.90" cy="599.00" r="3.65" fill="#6ab343" stroke="#1a1a1a" stroke-width="0.7"/>
<circle cx="261.30" cy="599.30" r="3.65" fill="#6ab343" stroke="#1a1a1a" stroke-width="0.7"/>
<circle cx="268.70" cy="599.30" r="3.65" fill="#6ab343" stroke="#1a1a1a" stroke-width="0.7"/>
<circle cx="276.10" cy="599.30" r="3.65" fill="#6ab343" stroke="#1a1a1a" stroke-width="0.7"/>
<circle cx="283.50" cy="599.30" r="3.65" fill="#6ab343" stroke="#1a1a1a" stroke-width="0.7"/>
<circle cx="290.90" cy="599.30" r="3.65" fill="#6ab343" stroke="#1a1a1a" stroke-width="0.7"/>
<circle cx="298.30" cy="599.30" r="3.65" fill="#6ab343" stroke="#1a1a1a" stroke-width="0.7"/>
<circle cx="305.70" cy="599.30" r="3.65" fill="#6ab343" stroke="#1a1a1a" stroke-width="0.7"/>
<circle cx="313.10" cy="599.30" r="3.65" fill="#6ab343" stroke="#1a1a1a" stroke-width="0.7"/>
<circle cx="320.50" cy="599.30" r="3.65" fill="#6ab343" stroke="#1a1a1a" stroke-width="0.7"/>
<circle cx="329.75" cy="599.30" r="3.65" fill="#6ab343" stroke="#1a1a1a" stroke-width="0.7"/>
<circle cx="339.00" cy="599.30" r="3.65" fill="#6ab343" stroke="#1a1a1a" stroke-width="0.7"/>
<circle cx="353.70" cy="568.70" r="3.45" fill="#6ab343" stroke="#1a1a1a" stroke-width="0.65"/>
<text x="361.30" y="571.10" font-size="7.6" textLength="26.40" lengthAdjust="spacingAndGlyphs">TCD BM</text>
<circle cx="353.70" cy="579.57" r="3.45" fill="#c1002d" stroke="#1a1a1a" stroke-width="0.65"/>
<text x="361.30" y="581.97" font-size="7.6" textLength="101.60" lengthAdjust="spacingAndGlyphs">TCD BM + WT T cells + isotype</text>
<circle cx="353.70" cy="590.44" r="3.45" fill="#2f5597" stroke="#1a1a1a" stroke-width="0.65"/>
<text x="361.30" y="592.84" font-size="7.6" textLength="133.40" lengthAdjust="spacingAndGlyphs">TCD BM + WT T cells + anti-Dll1/4 day 0</text>
<circle cx="353.70" cy="601.31" r="3.45" fill="#5b2b74" stroke="#1a1a1a" stroke-width="0.65"/>
<text x="361.30" y="603.71" font-size="7.6" textLength="133.10" lengthAdjust="spacingAndGlyphs">TCD BM + WT T cells + anti-Dll1/4 day 2</text>
<rect x="0" y="0" width="520" height="1.2" fill="#000"/>
<rect x="0" y="0" width="1.6" height="643" fill="#111"/>
<rect x="518.2" y="0" width="1.8" height="643" fill="#3a3a3a"/>
<rect x="0" y="641" width="520" height="2" fill="#000"/>
</svg>
</body></html>
